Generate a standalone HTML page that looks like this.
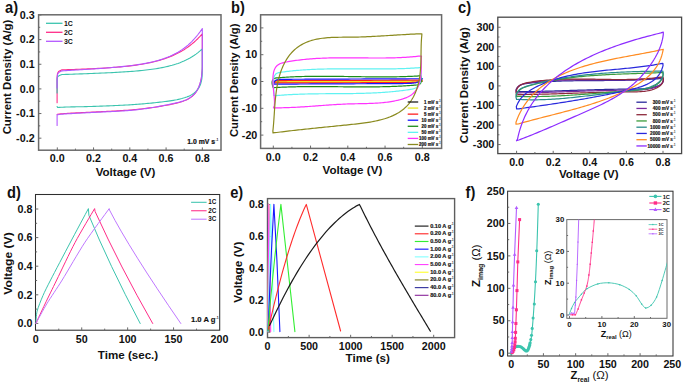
<!DOCTYPE html><html><head><meta charset="utf-8"><style>html,body{margin:0;padding:0;background:#fff;overflow:hidden;}svg{display:block;font-family:"Liberation Sans",sans-serif;}</style></head><body>
<svg width="685" height="384" viewBox="0 0 685 384">
<rect width="685" height="384" fill="#fff"/>
<rect x="38.6" y="14.8" width="182.4" height="135.4" fill="none" stroke="#6a6a6a" stroke-width="1.5"/>
<line x1="38.6" y1="14.98" x2="41.4" y2="14.98" stroke="#6a6a6a" stroke-width="1"/>
<line x1="38.6" y1="39.62" x2="41.4" y2="39.62" stroke="#6a6a6a" stroke-width="1"/>
<line x1="38.6" y1="64.26" x2="41.4" y2="64.26" stroke="#6a6a6a" stroke-width="1"/>
<line x1="38.6" y1="88.9" x2="41.4" y2="88.9" stroke="#6a6a6a" stroke-width="1"/>
<line x1="38.6" y1="113.54" x2="41.4" y2="113.54" stroke="#6a6a6a" stroke-width="1"/>
<line x1="38.6" y1="138.18" x2="41.4" y2="138.18" stroke="#6a6a6a" stroke-width="1"/>
<line x1="38.6" y1="27.3" x2="40.2" y2="27.3" stroke="#6a6a6a" stroke-width="1"/>
<line x1="38.6" y1="51.94" x2="40.2" y2="51.94" stroke="#6a6a6a" stroke-width="1"/>
<line x1="38.6" y1="76.58" x2="40.2" y2="76.58" stroke="#6a6a6a" stroke-width="1"/>
<line x1="38.6" y1="101.22" x2="40.2" y2="101.22" stroke="#6a6a6a" stroke-width="1"/>
<line x1="38.6" y1="125.86" x2="40.2" y2="125.86" stroke="#6a6a6a" stroke-width="1"/>
<line x1="57.3" y1="150.2" x2="57.3" y2="147.4" stroke="#6a6a6a" stroke-width="1"/>
<line x1="93.56" y1="150.2" x2="93.56" y2="147.4" stroke="#6a6a6a" stroke-width="1"/>
<line x1="129.82" y1="150.2" x2="129.82" y2="147.4" stroke="#6a6a6a" stroke-width="1"/>
<line x1="166.08" y1="150.2" x2="166.08" y2="147.4" stroke="#6a6a6a" stroke-width="1"/>
<line x1="202.34" y1="150.2" x2="202.34" y2="147.4" stroke="#6a6a6a" stroke-width="1"/>
<line x1="75.43" y1="150.2" x2="75.43" y2="148.6" stroke="#6a6a6a" stroke-width="1"/>
<line x1="111.69" y1="150.2" x2="111.69" y2="148.6" stroke="#6a6a6a" stroke-width="1"/>
<line x1="147.95" y1="150.2" x2="147.95" y2="148.6" stroke="#6a6a6a" stroke-width="1"/>
<line x1="184.21" y1="150.2" x2="184.21" y2="148.6" stroke="#6a6a6a" stroke-width="1"/>
<text x="34.6" y="18.68" font-size="10.4" text-anchor="end" font-weight="bold" fill="#111"  textLength="14.89" lengthAdjust="spacingAndGlyphs">0.3</text>
<text x="34.6" y="43.32" font-size="10.4" text-anchor="end" font-weight="bold" fill="#111"  textLength="14.89" lengthAdjust="spacingAndGlyphs">0.2</text>
<text x="34.6" y="67.96" font-size="10.4" text-anchor="end" font-weight="bold" fill="#111"  textLength="14.89" lengthAdjust="spacingAndGlyphs">0.1</text>
<text x="34.6" y="92.6" font-size="10.4" text-anchor="end" font-weight="bold" fill="#111"  textLength="14.89" lengthAdjust="spacingAndGlyphs">0.0</text>
<text x="34.6" y="117.24" font-size="10.4" text-anchor="end" font-weight="bold" fill="#111"  textLength="18.46" lengthAdjust="spacingAndGlyphs">-0.1</text>
<text x="34.6" y="141.88" font-size="10.4" text-anchor="end" font-weight="bold" fill="#111"  textLength="18.46" lengthAdjust="spacingAndGlyphs">-0.2</text>
<text x="57.3" y="162.2" font-size="10.4" text-anchor="middle" font-weight="bold" fill="#111"  textLength="14.89" lengthAdjust="spacingAndGlyphs">0.0</text>
<text x="93.56" y="162.2" font-size="10.4" text-anchor="middle" font-weight="bold" fill="#111"  textLength="14.89" lengthAdjust="spacingAndGlyphs">0.2</text>
<text x="129.82" y="162.2" font-size="10.4" text-anchor="middle" font-weight="bold" fill="#111"  textLength="14.89" lengthAdjust="spacingAndGlyphs">0.4</text>
<text x="166.08" y="162.2" font-size="10.4" text-anchor="middle" font-weight="bold" fill="#111"  textLength="14.89" lengthAdjust="spacingAndGlyphs">0.6</text>
<text x="202.34" y="162.2" font-size="10.4" text-anchor="middle" font-weight="bold" fill="#111"  textLength="14.89" lengthAdjust="spacingAndGlyphs">0.8</text>
<text x="125.5" y="175.8" font-size="11.6" text-anchor="middle" font-weight="bold" fill="#111" >Voltage (V)</text>
<text x="0" y="0" font-size="11.3" text-anchor="middle" font-weight="bold" fill="#111" transform="translate(11.4 77.0) rotate(-90)" textLength="114.77" lengthAdjust="spacingAndGlyphs">Current Density (A/g)</text>
<text x="5" y="12.8" font-size="16.3" text-anchor="start" font-weight="bold" fill="#111"  textLength="13.04" lengthAdjust="spacingAndGlyphs">a)</text>
<text x="215.1" y="143.7" font-size="6.4" text-anchor="end" font-weight="bold" fill="#111" textLength="27.79" lengthAdjust="spacingAndGlyphs" stroke="#111" stroke-width="0.2">1.0 mV s</text>
<text x="215.4" y="141.01" font-size="3.4" font-weight="bold" fill="#111">-1</text>
<line x1="46" y1="23.3" x2="62.5" y2="23.3" stroke="#3cc4ae" stroke-width="1.3"/>
<text x="64" y="25.65" font-size="6.7" text-anchor="start" font-weight="bold" fill="#111"  textLength="8.91" lengthAdjust="spacingAndGlyphs">1C</text>
<line x1="46" y1="32.3" x2="62.5" y2="32.3" stroke="#ff2d88" stroke-width="1.3"/>
<text x="64" y="34.65" font-size="6.7" text-anchor="start" font-weight="bold" fill="#111"  textLength="8.91" lengthAdjust="spacingAndGlyphs">2C</text>
<line x1="46" y1="41.3" x2="62.5" y2="41.3" stroke="#b458ff" stroke-width="1.3"/>
<text x="64" y="43.65" font-size="6.7" text-anchor="start" font-weight="bold" fill="#111"  textLength="8.91" lengthAdjust="spacingAndGlyphs">3C</text>
<path d="M57.1 102.8 L57.1 77.5 L57.1 77.5 L57.5 73.6 L58.6 71.6 L60 70.8 L62 69.83 L64 69.77 L66 69.71 L68 69.65 L70 69.58 L72 69.51 L74 69.44 L76 69.37 L78 69.3 L80 69.23 L82 69.15 L84 69.07 L86 68.99 L88 68.9 L90 68.81 L92 68.72 L94 68.62 L96 68.52 L98 68.42 L100 68.31 L102 68.19 L104 68.08 L106 67.95 L108 67.82 L110 67.69 L112 67.54 L114 67.39 L116 67.23 L118 67.07 L120 66.89 L122 66.71 L124 66.51 L126 66.31 L128 66.09 L130 65.86 L132 65.62 L134 65.36 L136 65.09 L138 64.8 L140 64.5 L142 64.17 L144 63.83 L146 63.46 L148 63.08 L150 62.66 L152 62.22 L154 61.76 L156 61.26 L158 60.73 L160 60.17 L162 59.57 L164 58.93 L166 58.25 L168 57.53 L170 56.76 L172 55.93 L174 55.05 L176 54.11 L178 53.11 L180 52.04 L182 50.9 L184 49.68 L186 48.38 L188 46.99 L190 45.51 L192 43.93 L194 42.23 L196 40.42 L198 38.49 L200 36.43 L202 34.22 L202.3 33.87 L202.3 66.5 L202.30 66.50 L202.27 68.22 L202.19 69.94 L202.07 71.64 L201.92 73.34 L201.75 75.04 L201.56 76.72 L201.31 78.41 L200.97 80.10 L200.55 81.78 L200.08 83.43 L199.56 85.05 L198.99 86.63 L198.31 88.21 L197.50 89.78 L196.61 91.30 L195.64 92.71 L194.61 93.99 L193.47 95.17 L192.18 96.30 L190.78 97.36 L189.30 98.34 L187.79 99.21 L186.28 99.95 L184.75 100.61 L183.17 101.22 L181.54 101.78 L179.89 102.29 L178.21 102.76 L176.54 103.18 L174.88 103.56 L173.22 103.91 L171.56 104.25 L169.90 104.59 L168.23 104.91 L166.55 105.23 L164.88 105.53 L163.19 105.83 L161.51 106.12 L159.82 106.40 L158.13 106.68 L156.44 106.94 L154.75 107.20 L153.05 107.45 L151.35 107.69 L149.65 107.92 L147.95 108.14 L146.25 108.36 L144.54 108.56 L142.84 108.76 L141.13 108.95 L139.43 109.14 L137.73 109.31 L136.02 109.48 L134.32 109.63 L132.62 109.78 L130.92 109.93 L129.22 110.06 L127.52 110.19 L125.82 110.31 L124.12 110.42 L122.42 110.53 L120.71 110.64 L119.01 110.74 L117.30 110.84 L115.60 110.93 L113.89 111.02 L112.18 111.11 L110.48 111.19 L108.77 111.27 L107.06 111.36 L105.35 111.44 L103.65 111.52 L101.94 111.60 L100.23 111.68 L98.52 111.76 L96.81 111.84 L95.11 111.93 L93.40 112.02 L91.69 112.11 L89.99 112.20 L88.28 112.29 L86.58 112.38 L84.87 112.47 L83.16 112.55 L81.45 112.63 L79.75 112.71 L78.04 112.79 L76.33 112.87 L74.62 112.95 L72.92 113.04 L71.21 113.13 L69.51 113.22 L67.80 113.33 L66.10 113.44 L64.39 113.55 L62.69 113.68 L60.99 113.82 L59.29 113.97 L57.60 114.20 L57.1 114.2" fill="none" stroke="#ff2d88" stroke-width="1.1" stroke-linejoin="round" stroke-linecap="round" />
<path d="M57.1 93 L57.1 79.5 L57.1 79.5 L57.5 77.2 L58.6 76 L60 75.3 L62 74.53 L64 74.46 L66 74.4 L68 74.33 L70 74.26 L72 74.19 L74 74.12 L76 74.05 L78 73.98 L80 73.91 L82 73.84 L84 73.76 L86 73.69 L88 73.61 L90 73.54 L92 73.46 L94 73.38 L96 73.3 L98 73.22 L100 73.13 L102 73.05 L104 72.96 L106 72.87 L108 72.77 L110 72.68 L112 72.58 L114 72.48 L116 72.37 L118 72.26 L120 72.14 L122 72.03 L124 71.9 L126 71.77 L128 71.64 L130 71.49 L132 71.34 L134 71.19 L136 71.02 L138 70.85 L140 70.66 L142 70.47 L144 70.26 L146 70.04 L148 69.8 L150 69.55 L152 69.29 L154 69 L156 68.7 L158 68.37 L160 68.02 L162 67.64 L164 67.24 L166 66.81 L168 66.34 L170 65.84 L172 65.3 L174 64.71 L176 64.08 L178 63.4 L180 62.66 L182 61.86 L184 61 L186 60.07 L188 59.06 L190 57.96 L192 56.77 L194 55.49 L196 54.09 L198 52.58 L200 50.93 L202 49.15 L202.3 48.87 L202.3 64.5 L202.30 64.50 L202.30 66.22 L202.28 67.94 L202.26 69.65 L202.23 71.36 L202.19 73.06 L202.15 74.76 L202.09 76.45 L201.94 78.16 L201.66 79.88 L201.29 81.58 L200.85 83.22 L200.37 84.79 L199.68 86.34 L198.79 87.85 L197.75 89.29 L196.63 90.62 L195.49 91.80 L194.22 92.90 L192.82 93.93 L191.33 94.87 L189.80 95.69 L188.27 96.38 L186.71 97.00 L185.11 97.56 L183.47 98.08 L181.81 98.55 L180.13 98.98 L178.45 99.38 L176.79 99.75 L175.11 100.08 L173.43 100.38 L171.74 100.65 L170.05 100.89 L168.36 101.12 L166.67 101.33 L164.98 101.55 L163.28 101.76 L161.59 101.96 L159.89 102.16 L158.20 102.35 L156.50 102.54 L154.80 102.73 L153.10 102.91 L151.40 103.08 L149.70 103.25 L148.00 103.41 L146.29 103.57 L144.59 103.72 L142.89 103.87 L141.19 104.01 L139.48 104.15 L137.78 104.28 L136.08 104.40 L134.37 104.52 L132.67 104.63 L130.97 104.74 L129.26 104.84 L127.56 104.94 L125.86 105.04 L124.15 105.13 L122.45 105.22 L120.74 105.30 L119.04 105.38 L117.33 105.46 L115.63 105.54 L113.92 105.62 L112.21 105.69 L110.51 105.76 L108.80 105.83 L107.09 105.90 L105.39 105.97 L103.68 106.03 L101.97 106.09 L100.27 106.15 L98.56 106.21 L96.85 106.27 L95.14 106.33 L93.44 106.39 L91.73 106.44 L90.02 106.50 L88.32 106.55 L86.61 106.60 L84.90 106.64 L83.19 106.68 L81.49 106.72 L79.78 106.75 L78.07 106.78 L76.36 106.82 L74.66 106.85 L72.95 106.89 L71.24 106.92 L69.53 106.97 L67.83 107.01 L66.12 107.06 L64.41 107.12 L62.71 107.18 L61.00 107.25 L59.30 107.34 L57.60 107.50 L57.1 106.6" fill="none" stroke="#3cc4ae" stroke-width="1.1" stroke-linejoin="round" stroke-linecap="round" />
<path d="M57.1 88 L57.1 78.5 L57.1 78.5 L57.5 74.6 L58.6 72.6 L60 71.7 L62 70.84 L64 70.73 L66 70.62 L68 70.51 L70 70.39 L72 70.28 L74 70.16 L76 70.04 L78 69.93 L80 69.81 L82 69.69 L84 69.56 L86 69.44 L88 69.31 L90 69.18 L92 69.05 L94 68.92 L96 68.78 L98 68.64 L100 68.5 L102 68.36 L104 68.21 L106 68.05 L108 67.89 L110 67.73 L112 67.56 L114 67.39 L116 67.21 L118 67.02 L120 66.83 L122 66.63 L124 66.42 L126 66.2 L128 65.97 L130 65.72 L132 65.47 L134 65.2 L136 64.92 L138 64.63 L140 64.31 L142 63.98 L144 63.63 L146 63.26 L148 62.86 L150 62.44 L152 61.99 L154 61.51 L156 61 L158 60.45 L160 59.86 L162 59.23 L164 58.56 L166 57.84 L168 57.06 L170 56.22 L172 55.32 L174 54.35 L176 53.31 L178 52.18 L180 50.97 L182 49.66 L184 48.24 L186 46.71 L188 45.06 L190 43.27 L192 41.33 L194 39.24 L196 36.98 L198 34.52 L200 31.87 L202 28.99 L202.3 28.54 L202.3 66.9 L202.30 66.90 L202.27 68.62 L202.18 70.32 L202.04 72.02 L201.88 73.72 L201.69 75.40 L201.49 77.08 L201.20 78.76 L200.83 80.45 L200.40 82.12 L199.91 83.75 L199.39 85.35 L198.79 86.92 L198.07 88.50 L197.24 90.05 L196.32 91.54 L195.33 92.91 L194.29 94.14 L193.11 95.31 L191.78 96.43 L190.36 97.47 L188.88 98.42 L187.37 99.24 L185.86 99.93 L184.31 100.54 L182.71 101.10 L181.07 101.60 L179.41 102.07 L177.73 102.49 L176.05 102.89 L174.39 103.27 L172.74 103.63 L171.08 103.99 L169.42 104.35 L167.76 104.70 L166.09 105.04 L164.42 105.38 L162.75 105.71 L161.07 106.03 L159.40 106.35 L157.72 106.66 L156.04 106.96 L154.35 107.25 L152.67 107.54 L150.98 107.81 L149.29 108.08 L147.60 108.34 L145.91 108.59 L144.22 108.83 L142.53 109.05 L140.84 109.27 L139.14 109.48 L137.45 109.68 L135.76 109.86 L134.07 110.03 L132.37 110.19 L130.68 110.34 L128.99 110.48 L127.30 110.61 L125.61 110.73 L123.91 110.85 L122.21 110.96 L120.52 111.06 L118.82 111.16 L117.12 111.26 L115.42 111.35 L113.72 111.44 L112.01 111.52 L110.31 111.60 L108.61 111.68 L106.91 111.76 L105.20 111.84 L103.50 111.92 L101.80 112.00 L100.09 112.08 L98.39 112.16 L96.69 112.25 L94.98 112.33 L93.28 112.42 L91.58 112.51 L89.88 112.61 L88.18 112.70 L86.48 112.79 L84.78 112.88 L83.08 112.97 L81.37 113.05 L79.67 113.14 L77.97 113.22 L76.27 113.31 L74.57 113.40 L72.87 113.49 L71.17 113.59 L69.47 113.69 L67.77 113.80 L66.07 113.92 L64.37 114.04 L62.68 114.17 L60.98 114.31 L59.29 114.48 L57.60 114.70 L57.1 114.8 L57.1 125.5" fill="none" stroke="#b458ff" stroke-width="1.1" stroke-linejoin="round" stroke-linecap="round" />
<rect x="260.6" y="14.8" width="181" height="133.6" fill="none" stroke="#6a6a6a" stroke-width="1.5"/>
<line x1="260.6" y1="27.9" x2="263.4" y2="27.9" stroke="#6a6a6a" stroke-width="1"/>
<line x1="260.6" y1="54.7" x2="263.4" y2="54.7" stroke="#6a6a6a" stroke-width="1"/>
<line x1="260.6" y1="81.5" x2="263.4" y2="81.5" stroke="#6a6a6a" stroke-width="1"/>
<line x1="260.6" y1="108.3" x2="263.4" y2="108.3" stroke="#6a6a6a" stroke-width="1"/>
<line x1="260.6" y1="135.1" x2="263.4" y2="135.1" stroke="#6a6a6a" stroke-width="1"/>
<line x1="260.6" y1="41.3" x2="262.2" y2="41.3" stroke="#6a6a6a" stroke-width="1"/>
<line x1="260.6" y1="68.1" x2="262.2" y2="68.1" stroke="#6a6a6a" stroke-width="1"/>
<line x1="260.6" y1="94.9" x2="262.2" y2="94.9" stroke="#6a6a6a" stroke-width="1"/>
<line x1="260.6" y1="121.7" x2="262.2" y2="121.7" stroke="#6a6a6a" stroke-width="1"/>
<line x1="273.3" y1="148.4" x2="273.3" y2="145.6" stroke="#6a6a6a" stroke-width="1"/>
<line x1="310.55" y1="148.4" x2="310.55" y2="145.6" stroke="#6a6a6a" stroke-width="1"/>
<line x1="347.8" y1="148.4" x2="347.8" y2="145.6" stroke="#6a6a6a" stroke-width="1"/>
<line x1="385.05" y1="148.4" x2="385.05" y2="145.6" stroke="#6a6a6a" stroke-width="1"/>
<line x1="422.3" y1="148.4" x2="422.3" y2="145.6" stroke="#6a6a6a" stroke-width="1"/>
<line x1="291.93" y1="148.4" x2="291.93" y2="146.8" stroke="#6a6a6a" stroke-width="1"/>
<line x1="329.18" y1="148.4" x2="329.18" y2="146.8" stroke="#6a6a6a" stroke-width="1"/>
<line x1="366.43" y1="148.4" x2="366.43" y2="146.8" stroke="#6a6a6a" stroke-width="1"/>
<line x1="403.68" y1="148.4" x2="403.68" y2="146.8" stroke="#6a6a6a" stroke-width="1"/>
<text x="257.3" y="31.6" font-size="10.4" text-anchor="end" font-weight="bold" fill="#111"  textLength="11.92" lengthAdjust="spacingAndGlyphs">20</text>
<text x="257.3" y="58.4" font-size="10.4" text-anchor="end" font-weight="bold" fill="#111"  textLength="11.92" lengthAdjust="spacingAndGlyphs">10</text>
<text x="257.3" y="85.2" font-size="10.4" text-anchor="end" font-weight="bold" fill="#111"  textLength="5.96" lengthAdjust="spacingAndGlyphs">0</text>
<text x="257.3" y="112" font-size="10.4" text-anchor="end" font-weight="bold" fill="#111"  textLength="15.48" lengthAdjust="spacingAndGlyphs">-10</text>
<text x="257.3" y="138.8" font-size="10.4" text-anchor="end" font-weight="bold" fill="#111"  textLength="15.48" lengthAdjust="spacingAndGlyphs">-20</text>
<text x="273.3" y="160.5" font-size="10.4" text-anchor="middle" font-weight="bold" fill="#111"  textLength="14.89" lengthAdjust="spacingAndGlyphs">0.0</text>
<text x="310.55" y="160.5" font-size="10.4" text-anchor="middle" font-weight="bold" fill="#111"  textLength="14.89" lengthAdjust="spacingAndGlyphs">0.2</text>
<text x="347.8" y="160.5" font-size="10.4" text-anchor="middle" font-weight="bold" fill="#111"  textLength="14.89" lengthAdjust="spacingAndGlyphs">0.4</text>
<text x="385.05" y="160.5" font-size="10.4" text-anchor="middle" font-weight="bold" fill="#111"  textLength="14.89" lengthAdjust="spacingAndGlyphs">0.6</text>
<text x="422.3" y="160.5" font-size="10.4" text-anchor="middle" font-weight="bold" fill="#111"  textLength="14.89" lengthAdjust="spacingAndGlyphs">0.8</text>
<text x="352.4" y="173.8" font-size="11.6" text-anchor="middle" font-weight="bold" fill="#111" >Voltage (V)</text>
<text x="0" y="0" font-size="11.3" text-anchor="middle" font-weight="bold" fill="#111" transform="translate(238.0 80.3) rotate(-90)">Current Density (A/g)</text>
<text x="231" y="12.8" font-size="16.3" text-anchor="start" font-weight="bold" fill="#111"  textLength="13.85" lengthAdjust="spacingAndGlyphs">b)</text>
<path d="M273.3 81.77 L273.51 81.7 L273.95 81.59 L274.53 81.5 L275.26 81.43 L276.1 81.4 L277.04 81.38 L278.09 81.37 L279.23 81.36 L280.46 81.36 L281.78 81.36 L283.17 81.36 L284.65 81.36 L286.2 81.36 L287.82 81.36 L289.51 81.35 L291.28 81.35 L293.11 81.35 L295.01 81.35 L296.97 81.35 L298.99 81.35 L301.08 81.35 L303.22 81.34 L305.43 81.34 L307.69 81.34 L310.02 81.34 L312.39 81.34 L314.83 81.34 L317.31 81.33 L319.86 81.33 L322.45 81.33 L325.1 81.33 L327.8 81.33 L330.55 81.32 L333.35 81.32 L336.2 81.32 L339.1 81.32 L342.05 81.32 L345.05 81.31 L348.09 81.31 L351.18 81.31 L354.32 81.31 L357.51 81.31 L360.74 81.3 L364.01 81.3 L367.33 81.3 L370.7 81.3 L374.11 81.29 L377.56 81.29 L381.06 81.29 L384.6 81.29 L388.18 81.28 L391.81 81.28 L395.48 81.28 L399.19 81.28 L402.94 81.27 L406.73 81.27 L410.56 81.27 L414.43 81.26 L418.35 81.26 L422.3 81.26 L422.3 81.26 L422.09 81.29 L421.65 81.35 L421.07 81.42 L420.34 81.49 L419.5 81.55 L418.56 81.6 L417.51 81.64 L416.37 81.66 L415.14 81.68 L413.82 81.7 L412.43 81.71 L410.95 81.71 L409.4 81.72 L407.78 81.72 L406.09 81.72 L404.32 81.73 L402.49 81.73 L400.59 81.73 L398.63 81.73 L396.61 81.73 L394.52 81.73 L392.38 81.74 L390.17 81.74 L387.91 81.74 L385.58 81.74 L383.21 81.74 L380.77 81.74 L378.29 81.75 L375.74 81.75 L373.15 81.75 L370.5 81.75 L367.8 81.75 L365.05 81.76 L362.25 81.76 L359.4 81.76 L356.5 81.76 L353.55 81.76 L350.55 81.77 L347.51 81.77 L344.42 81.77 L341.28 81.77 L338.09 81.77 L334.86 81.78 L331.59 81.78 L328.27 81.78 L324.9 81.78 L321.49 81.79 L318.04 81.79 L314.54 81.79 L311 81.79 L307.42 81.8 L303.79 81.8 L300.12 81.8 L296.41 81.8 L292.66 81.81 L288.87 81.81 L285.04 81.81 L281.17 81.82 L277.25 81.82 L273.3 81.82 L273.3 81.77" fill="none" stroke="#202020" stroke-width="1.2" stroke-linejoin="round" stroke-linecap="round" />
<path d="M273.3 82.44 L273.51 82.23 L273.95 81.91 L274.53 81.63 L275.26 81.44 L276.1 81.33 L277.04 81.27 L278.09 81.24 L279.23 81.23 L280.46 81.22 L281.78 81.22 L283.17 81.22 L284.65 81.22 L286.2 81.21 L287.82 81.21 L289.51 81.21 L291.28 81.21 L293.11 81.2 L295.01 81.2 L296.97 81.2 L298.99 81.2 L301.08 81.19 L303.22 81.19 L305.43 81.19 L307.69 81.18 L310.02 81.18 L312.39 81.18 L314.83 81.17 L317.31 81.17 L319.86 81.17 L322.45 81.16 L325.1 81.16 L327.8 81.15 L330.55 81.15 L333.35 81.15 L336.2 81.14 L339.1 81.14 L342.05 81.13 L345.05 81.13 L348.09 81.12 L351.18 81.12 L354.32 81.12 L357.51 81.11 L360.74 81.11 L364.01 81.1 L367.33 81.1 L370.7 81.09 L374.11 81.09 L377.56 81.08 L381.06 81.08 L384.6 81.07 L388.18 81.07 L391.81 81.06 L395.48 81.06 L399.19 81.05 L402.94 81.05 L406.73 81.04 L410.56 81.03 L414.43 81.03 L418.35 81.02 L422.3 81.02 L422.3 81.02 L422.09 81.11 L421.65 81.27 L421.07 81.45 L420.34 81.63 L419.5 81.78 L418.56 81.91 L417.51 82.01 L416.37 82.09 L415.14 82.14 L413.82 82.18 L412.43 82.2 L410.95 82.22 L409.4 82.23 L407.78 82.24 L406.09 82.24 L404.32 82.25 L402.49 82.25 L400.59 82.25 L398.63 82.26 L396.61 82.26 L394.52 82.26 L392.38 82.27 L390.17 82.27 L387.91 82.27 L385.58 82.28 L383.21 82.28 L380.77 82.28 L378.29 82.29 L375.74 82.29 L373.15 82.29 L370.5 82.3 L367.8 82.3 L365.05 82.31 L362.25 82.31 L359.4 82.31 L356.5 82.32 L353.55 82.32 L350.55 82.33 L347.51 82.33 L344.42 82.34 L341.28 82.34 L338.09 82.34 L334.86 82.35 L331.59 82.35 L328.27 82.36 L324.9 82.36 L321.49 82.37 L318.04 82.37 L314.54 82.38 L311 82.38 L307.42 82.39 L303.79 82.39 L300.12 82.4 L296.41 82.4 L292.66 82.41 L288.87 82.42 L285.04 82.42 L281.17 82.43 L277.25 82.43 L273.3 82.44 L273.3 82.44" fill="none" stroke="#e8e820" stroke-width="1.2" stroke-linejoin="round" stroke-linecap="round" />
<path d="M273.3 83.11 L273.51 82.72 L273.95 82.11 L274.53 81.55 L275.26 81.12 L276.1 80.85 L277.04 80.7 L278.09 80.61 L279.23 80.57 L280.46 80.55 L281.78 80.54 L283.17 80.53 L284.65 80.53 L286.2 80.53 L287.82 80.52 L289.51 80.52 L291.28 80.51 L293.11 80.5 L295.01 80.5 L296.97 80.49 L298.99 80.49 L301.08 80.48 L303.22 80.48 L305.43 80.47 L307.69 80.46 L310.02 80.46 L312.39 80.45 L314.83 80.44 L317.31 80.44 L319.86 80.43 L322.45 80.42 L325.1 80.41 L327.8 80.41 L330.55 80.4 L333.35 80.39 L336.2 80.38 L339.1 80.37 L342.05 80.36 L345.05 80.36 L348.09 80.35 L351.18 80.34 L354.32 80.33 L357.51 80.32 L360.74 80.31 L364.01 80.3 L367.33 80.29 L370.7 80.28 L374.11 80.27 L377.56 80.26 L381.06 80.25 L384.6 80.24 L388.18 80.23 L391.81 80.22 L395.48 80.21 L399.19 80.2 L402.94 80.19 L406.73 80.18 L410.56 80.17 L414.43 80.16 L418.35 80.14 L422.3 80.13 L422.3 80.13 L422.09 80.28 L421.65 80.56 L421.07 80.88 L420.34 81.21 L419.5 81.51 L418.56 81.77 L417.51 81.98 L416.37 82.15 L415.14 82.28 L413.82 82.38 L412.43 82.45 L410.95 82.5 L409.4 82.53 L407.78 82.56 L406.09 82.57 L404.32 82.59 L402.49 82.6 L400.59 82.6 L398.63 82.61 L396.61 82.62 L394.52 82.62 L392.38 82.63 L390.17 82.64 L387.91 82.64 L385.58 82.65 L383.21 82.66 L380.77 82.66 L378.29 82.67 L375.74 82.68 L373.15 82.69 L370.5 82.69 L367.8 82.7 L365.05 82.71 L362.25 82.72 L359.4 82.73 L356.5 82.73 L353.55 82.74 L350.55 82.75 L347.51 82.76 L344.42 82.77 L341.28 82.78 L338.09 82.79 L334.86 82.8 L331.59 82.81 L328.27 82.82 L324.9 82.83 L321.49 82.84 L318.04 82.85 L314.54 82.86 L311 82.87 L307.42 82.88 L303.79 82.89 L300.12 82.9 L296.41 82.91 L292.66 82.92 L288.87 82.93 L285.04 82.94 L281.17 82.95 L277.25 82.96 L273.3 82.97 L273.3 83.11" fill="none" stroke="#ff2020" stroke-width="1.2" stroke-linejoin="round" stroke-linecap="round" />
<path d="M273.3 84.18 L273.51 83.54 L273.95 82.48 L274.53 81.46 L275.26 80.65 L276.1 80.08 L277.04 79.73 L278.09 79.53 L279.23 79.42 L280.46 79.36 L281.78 79.34 L283.17 79.32 L284.65 79.31 L286.2 79.3 L287.82 79.29 L289.51 79.29 L291.28 79.28 L293.11 79.27 L295.01 79.26 L296.97 79.25 L298.99 79.25 L301.08 79.24 L303.22 79.23 L305.43 79.22 L307.69 79.21 L310.02 79.2 L312.39 79.19 L314.83 79.18 L317.31 79.17 L319.86 79.16 L322.45 79.14 L325.1 79.13 L327.8 79.12 L330.55 79.11 L333.35 79.1 L336.2 79.08 L339.1 79.07 L342.05 79.06 L345.05 79.05 L348.09 79.03 L351.18 79.02 L354.32 79.01 L357.51 78.99 L360.74 78.98 L364.01 78.96 L367.33 78.95 L370.7 78.94 L374.11 78.92 L377.56 78.91 L381.06 78.89 L384.6 78.88 L388.18 78.86 L391.81 78.84 L395.48 78.83 L399.19 78.81 L402.94 78.8 L406.73 78.78 L410.56 78.76 L414.43 78.75 L418.35 78.73 L422.3 78.71 L422.3 78.71 L422.09 78.98 L421.65 79.47 L421.07 80.06 L420.34 80.67 L419.5 81.24 L418.56 81.75 L417.51 82.19 L416.37 82.54 L415.14 82.82 L413.82 83.03 L412.43 83.19 L410.95 83.31 L409.4 83.39 L407.78 83.45 L406.09 83.49 L404.32 83.52 L402.49 83.55 L400.59 83.56 L398.63 83.58 L396.61 83.59 L394.52 83.6 L392.38 83.61 L390.17 83.62 L387.91 83.63 L385.58 83.64 L383.21 83.65 L380.77 83.66 L378.29 83.67 L375.74 83.68 L373.15 83.7 L370.5 83.71 L367.8 83.72 L365.05 83.73 L362.25 83.74 L359.4 83.75 L356.5 83.77 L353.55 83.78 L350.55 83.79 L347.51 83.81 L344.42 83.82 L341.28 83.83 L338.09 83.85 L334.86 83.86 L331.59 83.87 L328.27 83.89 L324.9 83.9 L321.49 83.92 L318.04 83.93 L314.54 83.95 L311 83.96 L307.42 83.98 L303.79 83.99 L300.12 84.01 L296.41 84.03 L292.66 84.04 L288.87 84.06 L285.04 84.08 L281.17 84.09 L277.25 84.11 L273.3 84.13 L273.3 84.18" fill="none" stroke="#1818ff" stroke-width="1.2" stroke-linejoin="round" stroke-linecap="round" />
<path d="M273.20 87.50 L272.54 85.68 L272.15 83.95 L272.06 82.43 L272.24 81.11 L272.67 80.02 L273.34 79.15 L274.23 78.53 L275.29 78.14 L276.49 77.92 L277.76 77.78 L279.05 77.68 L280.34 77.58 L281.64 77.49 L282.93 77.40 L284.23 77.32 L285.52 77.24 L286.82 77.16 L288.12 77.09 L289.42 77.02 L290.72 76.95 L292.03 76.89 L293.33 76.83 L294.64 76.77 L295.94 76.72 L297.25 76.67 L298.55 76.63 L299.86 76.59 L301.17 76.55 L302.48 76.51 L303.79 76.48 L305.10 76.45 L306.41 76.42 L307.73 76.40 L309.04 76.37 L310.36 76.36 L311.67 76.34 L312.99 76.32 L314.30 76.31 L315.62 76.30 L316.94 76.29 L318.25 76.29 L319.57 76.28 L320.89 76.28 L322.21 76.28 L323.53 76.28 L324.85 76.28 L326.17 76.29 L327.49 76.29 L328.82 76.30 L330.14 76.31 L331.46 76.32 L332.78 76.33 L334.11 76.35 L335.43 76.36 L336.75 76.37 L338.08 76.39 L339.40 76.41 L340.72 76.42 L342.05 76.44 L343.37 76.46 L344.70 76.48 L346.02 76.50 L347.35 76.52 L348.67 76.54 L350.00 76.56 L351.32 76.58 L352.65 76.60 L353.97 76.62 L355.30 76.64 L356.62 76.66 L357.95 76.68 L359.27 76.70 L360.60 76.72 L361.92 76.74 L363.24 76.75 L364.57 76.77 L365.89 76.79 L367.22 76.80 L368.54 76.82 L369.86 76.83 L371.18 76.85 L372.51 76.86 L373.83 76.87 L375.15 76.88 L376.47 76.88 L377.79 76.89 L379.11 76.90 L380.43 76.90 L381.75 76.90 L383.07 76.90 L384.39 76.90 L385.71 76.90 L387.02 76.89 L388.34 76.88 L389.66 76.87 L390.97 76.86 L392.29 76.85 L393.60 76.83 L394.91 76.81 L396.23 76.79 L397.54 76.76 L398.85 76.74 L400.16 76.71 L401.47 76.67 L402.78 76.64 L404.09 76.60 L405.39 76.56 L406.70 76.51 L408.00 76.47 L409.31 76.42 L410.61 76.36 L411.91 76.30 L413.21 76.24 L414.51 76.18 L415.81 76.11 L417.11 76.03 L418.41 75.96 L419.70 75.88 L421.00 75.80 L421.00 75.80 L421.20 77.24 L421.37 78.89 L421.36 80.45 L421.14 81.85 L420.70 83.02 L420.01 83.90 L419.07 84.46 L417.97 84.79 L416.74 84.98 L415.47 85.09 L414.20 85.20 L412.92 85.30 L411.64 85.40 L410.36 85.50 L409.08 85.59 L407.80 85.68 L406.51 85.77 L405.23 85.85 L403.94 85.92 L402.66 86.00 L401.37 86.07 L400.08 86.13 L398.79 86.20 L397.49 86.26 L396.20 86.31 L394.91 86.37 L393.61 86.42 L392.31 86.46 L391.02 86.51 L389.72 86.55 L388.42 86.59 L387.12 86.63 L385.82 86.66 L384.52 86.69 L383.21 86.72 L381.91 86.74 L380.61 86.77 L379.30 86.79 L377.99 86.81 L376.69 86.83 L375.38 86.84 L374.07 86.85 L372.76 86.87 L371.45 86.88 L370.14 86.88 L368.83 86.89 L367.52 86.89 L366.21 86.90 L364.90 86.90 L363.59 86.90 L362.27 86.90 L360.96 86.89 L359.64 86.89 L358.33 86.89 L357.02 86.88 L355.70 86.87 L354.38 86.86 L353.07 86.86 L351.75 86.85 L350.44 86.84 L349.12 86.83 L347.80 86.82 L346.49 86.80 L345.17 86.79 L343.85 86.78 L342.54 86.77 L341.22 86.75 L339.90 86.74 L338.59 86.73 L337.27 86.72 L335.95 86.70 L334.63 86.69 L333.32 86.68 L332.00 86.67 L330.68 86.66 L329.37 86.65 L328.05 86.64 L326.74 86.63 L325.42 86.62 L324.10 86.61 L322.79 86.60 L321.47 86.60 L320.16 86.59 L318.84 86.59 L317.53 86.58 L316.22 86.58 L314.90 86.58 L313.59 86.58 L312.28 86.58 L310.97 86.59 L309.66 86.59 L308.35 86.60 L307.04 86.61 L305.73 86.62 L304.42 86.63 L303.11 86.65 L301.80 86.66 L300.50 86.68 L299.19 86.70 L297.88 86.72 L296.58 86.75 L295.28 86.78 L293.97 86.81 L292.67 86.84 L291.37 86.87 L290.07 86.91 L288.77 86.95 L287.47 86.99 L286.18 87.04 L284.88 87.09 L283.58 87.14 L282.29 87.20 L281.00 87.26 L279.70 87.32 L278.41 87.38 L277.12 87.45 L275.84 87.52 L274.55 87.60 L273.20 87.50" fill="none" stroke="#1a8c1a" stroke-width="1.2" stroke-linejoin="round" stroke-linecap="round" />
<path d="M273.90 95.50 L274.01 94.67 L273.99 93.57 L273.91 92.29 L273.79 90.85 L273.66 89.30 L273.52 87.66 L273.41 85.97 L273.34 84.26 L273.32 82.56 L273.38 80.89 L273.54 79.30 L273.82 77.81 L274.23 76.46 L274.79 75.27 L275.52 74.29 L276.45 73.53 L277.56 73.00 L278.80 72.63 L280.13 72.38 L281.51 72.18 L282.88 71.99 L284.26 71.81 L285.64 71.63 L287.02 71.46 L288.41 71.30 L289.79 71.15 L291.18 71.00 L292.56 70.86 L293.95 70.72 L295.34 70.59 L296.74 70.46 L298.13 70.35 L299.52 70.23 L300.92 70.13 L302.32 70.02 L303.71 69.93 L305.11 69.84 L306.51 69.75 L307.91 69.67 L309.32 69.59 L310.72 69.52 L312.12 69.45 L313.53 69.39 L314.94 69.33 L316.34 69.27 L317.75 69.22 L319.16 69.17 L320.57 69.13 L321.98 69.09 L323.39 69.05 L324.80 69.02 L326.22 68.99 L327.63 68.97 L329.04 68.94 L330.46 68.92 L331.87 68.90 L333.29 68.89 L334.71 68.87 L336.12 68.86 L337.54 68.85 L338.96 68.85 L340.37 68.84 L341.79 68.84 L343.21 68.84 L344.63 68.84 L346.05 68.84 L347.47 68.84 L348.89 68.85 L350.31 68.85 L351.73 68.86 L353.14 68.87 L354.56 68.87 L355.98 68.88 L357.40 68.89 L358.82 68.90 L360.24 68.91 L361.66 68.92 L363.08 68.92 L364.50 68.93 L365.92 68.94 L367.34 68.95 L368.76 68.95 L370.17 68.96 L371.59 68.97 L373.01 68.97 L374.43 68.97 L375.84 68.97 L377.26 68.97 L378.67 68.97 L380.09 68.97 L381.50 68.96 L382.92 68.96 L384.33 68.95 L385.74 68.94 L387.16 68.92 L388.57 68.91 L389.98 68.89 L391.39 68.87 L392.80 68.85 L394.20 68.82 L395.61 68.79 L397.02 68.76 L398.42 68.72 L399.83 68.68 L401.23 68.64 L402.63 68.59 L404.03 68.54 L405.43 68.48 L406.83 68.42 L408.23 68.36 L409.63 68.29 L411.02 68.22 L412.42 68.14 L413.81 68.06 L415.20 67.97 L416.59 67.88 L417.98 67.78 L419.37 67.68 L420.80 67.70 L420.80 67.70 L420.78 68.73 L420.89 70.02 L420.98 71.42 L421.04 72.90 L421.05 74.45 L421.02 76.03 L420.92 77.61 L420.75 79.18 L420.50 80.70 L420.15 82.15 L419.69 83.49 L419.11 84.72 L418.40 85.78 L417.55 86.68 L416.58 87.41 L415.50 88.01 L414.32 88.48 L413.07 88.86 L411.77 89.16 L410.43 89.40 L409.07 89.62 L407.70 89.83 L406.33 90.03 L404.97 90.22 L403.60 90.40 L402.23 90.58 L400.86 90.75 L399.49 90.91 L398.12 91.07 L396.75 91.22 L395.37 91.37 L394.00 91.51 L392.63 91.64 L391.25 91.77 L389.88 91.89 L388.50 92.00 L387.13 92.11 L385.75 92.22 L384.38 92.32 L383.00 92.41 L381.62 92.50 L380.24 92.59 L378.86 92.67 L377.49 92.75 L376.11 92.82 L374.73 92.89 L373.35 92.95 L371.97 93.01 L370.58 93.07 L369.20 93.12 L367.82 93.17 L366.44 93.22 L365.06 93.26 L363.67 93.30 L362.29 93.34 L360.91 93.37 L359.53 93.40 L358.14 93.43 L356.76 93.46 L355.37 93.48 L353.99 93.51 L352.61 93.53 L351.22 93.54 L349.84 93.56 L348.45 93.58 L347.07 93.59 L345.68 93.60 L344.30 93.61 L342.91 93.62 L341.53 93.63 L340.14 93.64 L338.76 93.65 L337.37 93.66 L335.99 93.66 L334.60 93.67 L333.22 93.68 L331.83 93.68 L330.45 93.69 L329.06 93.70 L327.68 93.71 L326.30 93.72 L324.91 93.73 L323.53 93.74 L322.14 93.75 L320.76 93.76 L319.38 93.77 L317.99 93.79 L316.61 93.80 L315.23 93.82 L313.85 93.84 L312.46 93.87 L311.08 93.89 L309.70 93.92 L308.32 93.94 L306.94 93.98 L305.56 94.01 L304.18 94.05 L302.80 94.09 L301.42 94.13 L300.04 94.18 L298.66 94.23 L297.28 94.28 L295.91 94.34 L294.53 94.40 L293.15 94.46 L291.78 94.53 L290.40 94.60 L289.03 94.68 L287.65 94.76 L286.28 94.84 L284.90 94.93 L283.53 95.03 L282.16 95.13 L280.79 95.23 L279.42 95.34 L278.05 95.46 L276.68 95.58 L275.31 95.71 L273.90 95.50" fill="none" stroke="#60f2f2" stroke-width="1.2" stroke-linejoin="round" stroke-linecap="round" />
<path d="M273.50 107.90 L273.92 107.17 L274.18 106.24 L274.36 105.15 L274.46 103.92 L274.48 102.57 L274.45 101.10 L274.37 99.53 L274.25 97.88 L274.10 96.14 L273.92 94.34 L273.74 92.48 L273.55 90.59 L273.37 88.66 L273.20 86.72 L273.06 84.78 L272.96 82.85 L272.90 80.94 L272.90 79.06 L272.96 77.23 L273.10 75.46 L273.32 73.76 L273.63 72.14 L274.04 70.62 L274.57 69.20 L275.22 67.91 L276.00 66.75 L276.92 65.74 L277.99 64.87 L279.19 64.15 L280.50 63.55 L281.90 63.05 L283.37 62.64 L284.90 62.28 L286.46 61.97 L288.03 61.68 L289.61 61.41 L291.18 61.15 L292.76 60.90 L294.34 60.67 L295.91 60.44 L297.49 60.23 L299.08 60.03 L300.66 59.84 L302.24 59.66 L303.82 59.49 L305.41 59.33 L306.99 59.18 L308.58 59.04 L310.17 58.91 L311.75 58.79 L313.34 58.67 L314.93 58.57 L316.52 58.47 L318.11 58.38 L319.70 58.30 L321.29 58.23 L322.88 58.16 L324.48 58.10 L326.07 58.05 L327.66 58.00 L329.26 57.96 L330.85 57.92 L332.45 57.89 L334.04 57.86 L335.64 57.84 L337.23 57.82 L338.83 57.81 L340.43 57.80 L342.02 57.80 L343.62 57.80 L345.22 57.80 L346.81 57.80 L348.41 57.81 L350.01 57.82 L351.60 57.83 L353.20 57.84 L354.80 57.85 L356.39 57.86 L357.99 57.88 L359.59 57.90 L361.18 57.91 L362.78 57.93 L364.38 57.94 L365.97 57.96 L367.57 57.97 L369.16 57.98 L370.76 57.99 L372.35 58.00 L373.95 58.01 L375.54 58.01 L377.14 58.02 L378.73 58.01 L380.32 58.01 L381.91 58.00 L383.51 57.99 L385.10 57.98 L386.69 57.96 L388.28 57.93 L389.87 57.90 L391.45 57.87 L393.04 57.83 L394.63 57.78 L396.22 57.73 L397.80 57.67 L399.39 57.61 L400.97 57.54 L402.55 57.46 L404.13 57.37 L405.71 57.28 L407.29 57.18 L408.87 57.07 L410.45 56.95 L412.03 56.82 L413.60 56.68 L415.18 56.54 L416.75 56.38 L418.32 56.22 L419.89 56.04 L421.50 56.00 L421.50 56.00 L421.33 57.38 L421.30 58.77 L421.28 60.21 L421.27 61.70 L421.27 63.22 L421.27 64.79 L421.26 66.38 L421.24 67.99 L421.21 69.61 L421.15 71.24 L421.07 72.88 L420.95 74.51 L420.79 76.13 L420.60 77.73 L420.35 79.31 L420.05 80.86 L419.69 82.38 L419.26 83.85 L418.76 85.27 L418.19 86.63 L417.53 87.94 L416.79 89.18 L415.98 90.35 L415.08 91.46 L414.12 92.51 L413.09 93.48 L411.99 94.39 L410.83 95.23 L409.61 96.00 L408.33 96.70 L407.01 97.33 L405.64 97.90 L404.24 98.42 L402.81 98.90 L401.36 99.33 L399.89 99.73 L398.42 100.11 L396.95 100.46 L395.46 100.78 L393.97 101.08 L392.48 101.36 L390.97 101.61 L389.47 101.85 L387.96 102.06 L386.44 102.26 L384.92 102.43 L383.39 102.59 L381.87 102.74 L380.33 102.87 L378.80 102.98 L377.26 103.09 L375.72 103.18 L374.18 103.26 L372.64 103.33 L371.09 103.39 L369.54 103.45 L367.99 103.50 L366.45 103.54 L364.90 103.57 L363.35 103.61 L361.80 103.64 L360.25 103.67 L358.70 103.70 L357.15 103.73 L355.61 103.76 L354.06 103.79 L352.52 103.83 L350.98 103.87 L349.44 103.91 L347.91 103.96 L346.37 104.02 L344.84 104.08 L343.32 104.15 L341.79 104.23 L340.27 104.30 L338.75 104.39 L337.23 104.47 L335.71 104.56 L334.19 104.65 L332.68 104.75 L331.17 104.85 L329.65 104.95 L328.14 105.06 L326.63 105.16 L325.12 105.27 L323.61 105.38 L322.11 105.49 L320.60 105.60 L319.09 105.71 L317.59 105.82 L316.08 105.93 L314.57 106.04 L313.07 106.15 L311.56 106.26 L310.05 106.37 L308.54 106.48 L307.04 106.58 L305.53 106.68 L304.02 106.78 L302.51 106.88 L300.99 106.97 L299.48 107.07 L297.97 107.15 L296.45 107.24 L294.93 107.31 L293.41 107.39 L291.89 107.46 L290.37 107.52 L288.85 107.58 L287.32 107.64 L285.79 107.68 L284.26 107.72 L282.72 107.76 L281.19 107.79 L279.65 107.81 L278.10 107.82 L276.56 107.83 L275.01 107.82 L273.50 107.90" fill="none" stroke="#ff33ff" stroke-width="1.2" stroke-linejoin="round" stroke-linecap="round" />
<path d="M273.00 132.90 L272.88 130.90 L273.07 129.20 L273.24 127.48 L273.40 125.74 L273.55 123.99 L273.69 122.21 L273.82 120.42 L273.95 118.62 L274.07 116.80 L274.20 114.97 L274.32 113.13 L274.44 111.28 L274.56 109.42 L274.69 107.56 L274.83 105.69 L274.98 103.81 L275.13 101.93 L275.30 100.05 L275.48 98.18 L275.68 96.30 L275.90 94.42 L276.13 92.55 L276.39 90.68 L276.67 88.82 L276.97 86.97 L277.30 85.12 L277.65 83.29 L278.04 81.46 L278.46 79.65 L278.91 77.85 L279.40 76.07 L279.92 74.31 L280.49 72.56 L281.09 70.83 L281.74 69.13 L282.43 67.44 L283.16 65.78 L283.95 64.14 L284.78 62.53 L285.66 60.94 L286.59 59.39 L287.58 57.88 L288.61 56.41 L289.69 54.98 L290.82 53.60 L292.01 52.27 L293.24 51.00 L294.53 49.78 L295.87 48.62 L297.26 47.53 L298.70 46.50 L300.18 45.53 L301.70 44.63 L303.26 43.78 L304.85 42.99 L306.48 42.27 L308.14 41.60 L309.83 41.00 L311.55 40.45 L313.29 39.96 L315.05 39.53 L316.83 39.14 L318.63 38.80 L320.45 38.50 L322.28 38.24 L324.13 38.03 L325.99 37.84 L327.87 37.69 L329.75 37.56 L331.64 37.46 L333.54 37.39 L335.44 37.33 L337.34 37.28 L339.25 37.25 L341.16 37.23 L343.06 37.22 L344.96 37.21 L346.86 37.20 L348.75 37.19 L350.63 37.17 L352.50 37.15 L354.37 37.12 L356.22 37.08 L358.07 37.03 L359.91 36.98 L361.75 36.92 L363.58 36.86 L365.40 36.79 L367.22 36.71 L369.03 36.63 L370.84 36.55 L372.64 36.46 L374.45 36.36 L376.24 36.27 L378.04 36.17 L379.84 36.07 L381.63 35.96 L383.43 35.85 L385.22 35.75 L387.02 35.64 L388.81 35.52 L390.61 35.41 L392.41 35.30 L394.21 35.19 L396.01 35.07 L397.82 34.96 L399.63 34.85 L401.45 34.74 L403.27 34.63 L405.10 34.53 L406.94 34.42 L408.78 34.32 L410.62 34.22 L412.48 34.13 L414.34 34.04 L416.21 33.95 L418.10 33.86 L419.99 33.79 L421.90 33.75 L421.90 33.75 L421.79 35.61 L421.63 37.31 L421.49 39.03 L421.38 40.76 L421.29 42.51 L421.22 44.27 L421.17 46.04 L421.13 47.83 L421.09 49.62 L421.07 51.42 L421.04 53.23 L421.02 55.05 L420.99 56.88 L420.96 58.70 L420.92 60.54 L420.86 62.37 L420.79 64.21 L420.70 66.05 L420.60 67.89 L420.46 69.72 L420.30 71.56 L420.11 73.39 L419.89 75.21 L419.63 77.04 L419.33 78.85 L418.99 80.66 L418.60 82.46 L418.16 84.24 L417.68 86.02 L417.14 87.78 L416.56 89.51 L415.93 91.23 L415.25 92.91 L414.51 94.56 L413.73 96.17 L412.89 97.74 L412.00 99.27 L411.06 100.74 L410.07 102.17 L409.03 103.54 L407.93 104.84 L406.78 106.09 L405.58 107.28 L404.34 108.42 L403.04 109.50 L401.71 110.52 L400.33 111.49 L398.91 112.42 L397.45 113.29 L395.95 114.12 L394.41 114.90 L392.85 115.64 L391.25 116.34 L389.62 117.00 L387.96 117.62 L386.27 118.20 L384.56 118.75 L382.83 119.26 L381.07 119.74 L379.30 120.19 L377.50 120.61 L375.69 121.01 L373.87 121.38 L372.03 121.73 L370.18 122.05 L368.33 122.36 L366.46 122.64 L364.59 122.91 L362.72 123.17 L360.84 123.41 L358.97 123.63 L357.09 123.85 L355.22 124.06 L353.36 124.26 L351.50 124.46 L349.64 124.65 L347.80 124.84 L345.97 125.03 L344.15 125.22 L342.34 125.40 L340.53 125.58 L338.73 125.77 L336.94 125.95 L335.16 126.13 L333.38 126.30 L331.61 126.48 L329.84 126.66 L328.07 126.84 L326.32 127.01 L324.56 127.19 L322.81 127.37 L321.06 127.54 L319.31 127.72 L317.56 127.90 L315.82 128.07 L314.07 128.25 L312.33 128.43 L310.59 128.61 L308.84 128.80 L307.09 128.98 L305.34 129.17 L303.59 129.35 L301.84 129.54 L300.08 129.73 L298.32 129.93 L296.55 130.12 L294.78 130.32 L293.00 130.52 L291.22 130.73 L289.43 130.93 L287.63 131.14 L285.82 131.36 L284.01 131.57 L282.19 131.79 L280.36 132.02 L278.52 132.25 L276.67 132.48 L274.81 132.71 L273.00 132.90" fill="none" stroke="#8a8a1e" stroke-width="1.2" stroke-linejoin="round" stroke-linecap="round" />
<line x1="407.7" y1="102" x2="418.2" y2="102" stroke="#202020" stroke-width="1.3"/>
<text x="438.2" y="103.9" font-size="4.9" text-anchor="end" font-weight="bold" fill="#111" textLength="14.22" lengthAdjust="spacingAndGlyphs" stroke="#111" stroke-width="0.22">1 mV s</text>
<text x="438.4" y="101.84" font-size="2.6" font-weight="bold" fill="#111">-1</text>
<line x1="407.7" y1="108.07" x2="418.2" y2="108.07" stroke="#e8e820" stroke-width="1.3"/>
<text x="438.2" y="109.97" font-size="4.9" text-anchor="end" font-weight="bold" fill="#111" textLength="14.22" lengthAdjust="spacingAndGlyphs" stroke="#111" stroke-width="0.22">2 mV s</text>
<text x="438.4" y="107.91" font-size="2.6" font-weight="bold" fill="#111">-1</text>
<line x1="407.7" y1="114.14" x2="418.2" y2="114.14" stroke="#ff2020" stroke-width="1.3"/>
<text x="438.2" y="116.04" font-size="4.9" text-anchor="end" font-weight="bold" fill="#111" textLength="14.22" lengthAdjust="spacingAndGlyphs" stroke="#111" stroke-width="0.22">5 mV s</text>
<text x="438.4" y="113.98" font-size="2.6" font-weight="bold" fill="#111">-1</text>
<line x1="407.7" y1="120.21" x2="418.2" y2="120.21" stroke="#1818ff" stroke-width="1.3"/>
<text x="438.2" y="122.11" font-size="4.9" text-anchor="end" font-weight="bold" fill="#111" textLength="16.67" lengthAdjust="spacingAndGlyphs" stroke="#111" stroke-width="0.22">10 mV s</text>
<text x="438.4" y="120.05" font-size="2.6" font-weight="bold" fill="#111">-1</text>
<line x1="407.7" y1="126.28" x2="418.2" y2="126.28" stroke="#1a8c1a" stroke-width="1.3"/>
<text x="438.2" y="128.18" font-size="4.9" text-anchor="end" font-weight="bold" fill="#111" textLength="16.67" lengthAdjust="spacingAndGlyphs" stroke="#111" stroke-width="0.22">20 mV s</text>
<text x="438.4" y="126.12" font-size="2.6" font-weight="bold" fill="#111">-1</text>
<line x1="407.7" y1="132.35" x2="418.2" y2="132.35" stroke="#60f2f2" stroke-width="1.3"/>
<text x="438.2" y="134.25" font-size="4.9" text-anchor="end" font-weight="bold" fill="#111" textLength="16.67" lengthAdjust="spacingAndGlyphs" stroke="#111" stroke-width="0.22">50 mV s</text>
<text x="438.4" y="132.19" font-size="2.6" font-weight="bold" fill="#111">-1</text>
<line x1="407.7" y1="138.42" x2="418.2" y2="138.42" stroke="#ff33ff" stroke-width="1.3"/>
<text x="438.2" y="140.32" font-size="4.9" text-anchor="end" font-weight="bold" fill="#111" textLength="19.12" lengthAdjust="spacingAndGlyphs" stroke="#111" stroke-width="0.22">100 mV s</text>
<text x="438.4" y="138.26" font-size="2.6" font-weight="bold" fill="#111">-1</text>
<line x1="407.7" y1="144.49" x2="418.2" y2="144.49" stroke="#8a8a1e" stroke-width="1.3"/>
<text x="438.2" y="146.39" font-size="4.9" text-anchor="end" font-weight="bold" fill="#111" textLength="19.12" lengthAdjust="spacingAndGlyphs" stroke="#111" stroke-width="0.22">200 mV s</text>
<text x="438.4" y="144.33" font-size="2.6" font-weight="bold" fill="#111">-1</text>
<rect x="497.8" y="17.2" width="183.8" height="136.4" fill="none" stroke="#484848" stroke-width="1.3"/>
<line x1="497.8" y1="27.25" x2="500.6" y2="27.25" stroke="#6a6a6a" stroke-width="1"/>
<line x1="497.8" y1="46.8" x2="500.6" y2="46.8" stroke="#6a6a6a" stroke-width="1"/>
<line x1="497.8" y1="66.35" x2="500.6" y2="66.35" stroke="#6a6a6a" stroke-width="1"/>
<line x1="497.8" y1="85.9" x2="500.6" y2="85.9" stroke="#6a6a6a" stroke-width="1"/>
<line x1="497.8" y1="105.45" x2="500.6" y2="105.45" stroke="#6a6a6a" stroke-width="1"/>
<line x1="497.8" y1="125" x2="500.6" y2="125" stroke="#6a6a6a" stroke-width="1"/>
<line x1="497.8" y1="144.55" x2="500.6" y2="144.55" stroke="#6a6a6a" stroke-width="1"/>
<line x1="497.8" y1="37.03" x2="499.4" y2="37.03" stroke="#6a6a6a" stroke-width="1"/>
<line x1="497.8" y1="56.58" x2="499.4" y2="56.58" stroke="#6a6a6a" stroke-width="1"/>
<line x1="497.8" y1="76.12" x2="499.4" y2="76.12" stroke="#6a6a6a" stroke-width="1"/>
<line x1="497.8" y1="95.68" x2="499.4" y2="95.68" stroke="#6a6a6a" stroke-width="1"/>
<line x1="497.8" y1="115.23" x2="499.4" y2="115.23" stroke="#6a6a6a" stroke-width="1"/>
<line x1="497.8" y1="134.78" x2="499.4" y2="134.78" stroke="#6a6a6a" stroke-width="1"/>
<line x1="516.6" y1="153.6" x2="516.6" y2="150.8" stroke="#6a6a6a" stroke-width="1"/>
<line x1="553.2" y1="153.6" x2="553.2" y2="150.8" stroke="#6a6a6a" stroke-width="1"/>
<line x1="589.8" y1="153.6" x2="589.8" y2="150.8" stroke="#6a6a6a" stroke-width="1"/>
<line x1="626.4" y1="153.6" x2="626.4" y2="150.8" stroke="#6a6a6a" stroke-width="1"/>
<line x1="663" y1="153.6" x2="663" y2="150.8" stroke="#6a6a6a" stroke-width="1"/>
<line x1="534.9" y1="153.6" x2="534.9" y2="152" stroke="#6a6a6a" stroke-width="1"/>
<line x1="571.5" y1="153.6" x2="571.5" y2="152" stroke="#6a6a6a" stroke-width="1"/>
<line x1="608.1" y1="153.6" x2="608.1" y2="152" stroke="#6a6a6a" stroke-width="1"/>
<line x1="644.7" y1="153.6" x2="644.7" y2="152" stroke="#6a6a6a" stroke-width="1"/>
<text x="494.3" y="30.95" font-size="10.4" text-anchor="end" font-weight="bold" fill="#111"  textLength="17.87" lengthAdjust="spacingAndGlyphs">300</text>
<text x="494.3" y="50.5" font-size="10.4" text-anchor="end" font-weight="bold" fill="#111"  textLength="17.87" lengthAdjust="spacingAndGlyphs">200</text>
<text x="494.3" y="70.05" font-size="10.4" text-anchor="end" font-weight="bold" fill="#111"  textLength="17.87" lengthAdjust="spacingAndGlyphs">100</text>
<text x="494.3" y="89.6" font-size="10.4" text-anchor="end" font-weight="bold" fill="#111"  textLength="5.96" lengthAdjust="spacingAndGlyphs">0</text>
<text x="494.3" y="109.15" font-size="10.4" text-anchor="end" font-weight="bold" fill="#111"  textLength="21.44" lengthAdjust="spacingAndGlyphs">-100</text>
<text x="494.3" y="128.7" font-size="10.4" text-anchor="end" font-weight="bold" fill="#111"  textLength="21.44" lengthAdjust="spacingAndGlyphs">-200</text>
<text x="494.3" y="148.25" font-size="10.4" text-anchor="end" font-weight="bold" fill="#111"  textLength="21.44" lengthAdjust="spacingAndGlyphs">-300</text>
<text x="516.6" y="166" font-size="10.4" text-anchor="middle" font-weight="bold" fill="#111"  textLength="14.89" lengthAdjust="spacingAndGlyphs">0.0</text>
<text x="553.2" y="166" font-size="10.4" text-anchor="middle" font-weight="bold" fill="#111"  textLength="14.89" lengthAdjust="spacingAndGlyphs">0.2</text>
<text x="589.8" y="166" font-size="10.4" text-anchor="middle" font-weight="bold" fill="#111"  textLength="14.89" lengthAdjust="spacingAndGlyphs">0.4</text>
<text x="626.4" y="166" font-size="10.4" text-anchor="middle" font-weight="bold" fill="#111"  textLength="14.89" lengthAdjust="spacingAndGlyphs">0.6</text>
<text x="663" y="166" font-size="10.4" text-anchor="middle" font-weight="bold" fill="#111"  textLength="14.89" lengthAdjust="spacingAndGlyphs">0.8</text>
<text x="588.8" y="177.5" font-size="11.6" text-anchor="middle" font-weight="bold" fill="#111" >Voltage (V)</text>
<text x="0" y="0" font-size="11.3" text-anchor="middle" font-weight="bold" fill="#111" transform="translate(467.5 85.2) rotate(-90)" textLength="115.91" lengthAdjust="spacingAndGlyphs">Current Density (A/g)</text>
<text x="458.1" y="12.8" font-size="16.3" text-anchor="start" font-weight="bold" fill="#111"  textLength="13.04" lengthAdjust="spacingAndGlyphs">c)</text>
<path d="M516.60 92.11 L516.10 89.62 L516.87 88.11 L517.89 86.87 L519.13 85.87 L520.57 85.07 L522.17 84.46 L523.90 83.98 L525.73 83.63 L527.62 83.35 L529.56 83.13 L531.52 82.93 L533.47 82.75 L535.41 82.57 L537.36 82.40 L539.31 82.25 L541.26 82.10 L543.20 81.96 L545.15 81.84 L547.09 81.72 L549.03 81.60 L550.98 81.50 L552.92 81.40 L554.86 81.31 L556.80 81.23 L558.74 81.16 L560.68 81.09 L562.61 81.02 L564.55 80.97 L566.49 80.91 L568.42 80.87 L570.36 80.82 L572.30 80.79 L574.23 80.75 L576.16 80.72 L578.10 80.70 L580.03 80.67 L581.96 80.65 L583.89 80.64 L585.82 80.62 L587.76 80.61 L589.69 80.60 L591.62 80.59 L593.55 80.58 L595.47 80.57 L597.40 80.56 L599.33 80.55 L601.26 80.54 L603.19 80.53 L605.12 80.52 L607.04 80.51 L608.97 80.50 L610.90 80.49 L612.82 80.47 L614.75 80.45 L616.68 80.43 L618.60 80.40 L620.53 80.37 L622.45 80.34 L624.38 80.31 L626.30 80.27 L628.23 80.22 L630.15 80.17 L632.08 80.12 L634.01 80.06 L635.93 79.99 L637.86 79.92 L639.78 79.84 L641.71 79.75 L643.63 79.66 L645.56 79.56 L647.48 79.45 L649.41 79.33 L651.33 79.21 L653.26 79.07 L655.18 78.93 L657.11 78.78 L659.04 78.62 L660.96 78.44 L662.90 78.29 M662.90 78.29 L663.37 80.82 L662.73 82.47 L661.70 83.74 L660.39 84.72 L658.87 85.49 L657.23 86.12 L655.54 86.67 L653.80 87.14 L652.02 87.55 L650.21 87.90 L648.36 88.19 L646.47 88.42 L644.56 88.61 L642.63 88.76 L640.68 88.88 L638.71 88.96 L636.72 89.02 L634.73 89.06 L632.73 89.08 L630.73 89.10 L628.73 89.11 L626.73 89.12 L624.74 89.14 L622.76 89.15 L620.78 89.18 L618.81 89.20 L616.84 89.23 L614.88 89.26 L612.92 89.29 L610.97 89.33 L609.02 89.37 L607.07 89.41 L605.13 89.45 L603.20 89.50 L601.26 89.54 L599.33 89.59 L597.41 89.64 L595.48 89.70 L593.56 89.75 L591.64 89.81 L589.73 89.86 L587.81 89.92 L585.90 89.98 L583.99 90.04 L582.08 90.10 L580.17 90.16 L578.27 90.22 L576.36 90.28 L574.45 90.34 L572.55 90.41 L570.64 90.47 L568.74 90.53 L566.83 90.59 L564.92 90.65 L563.02 90.72 L561.11 90.78 L559.20 90.84 L557.29 90.90 L555.38 90.95 L553.46 91.01 L551.55 91.07 L549.63 91.12 L547.71 91.17 L545.78 91.22 L543.86 91.27 L541.93 91.32 L539.99 91.37 L538.06 91.41 L536.12 91.45 L534.17 91.49 L532.22 91.53 L530.27 91.56 L528.31 91.60 L526.35 91.63 L524.38 91.65 L522.41 91.67 L520.43 91.69 L518.45 91.71 L516.60 92.11" fill="none" stroke="#2a2a9c" stroke-width="1.2" stroke-linejoin="round" stroke-linecap="round" />
<path d="M516.60 93.21 L515.99 90.62 L516.63 88.90 L517.53 87.46 L518.66 86.28 L519.99 85.32 L521.50 84.55 L523.15 83.94 L524.92 83.47 L526.77 83.09 L528.68 82.79 L530.62 82.52 L532.56 82.28 L534.50 82.05 L536.44 81.83 L538.38 81.63 L540.33 81.44 L542.27 81.27 L544.22 81.11 L546.17 80.96 L548.11 80.82 L550.06 80.69 L552.01 80.58 L553.96 80.47 L555.91 80.38 L557.87 80.29 L559.82 80.21 L561.77 80.15 L563.73 80.09 L565.68 80.04 L567.63 79.99 L569.59 79.96 L571.54 79.93 L573.50 79.90 L575.46 79.88 L577.41 79.87 L579.37 79.86 L581.32 79.85 L583.28 79.85 L585.24 79.86 L587.19 79.86 L589.15 79.87 L591.10 79.88 L593.06 79.89 L595.01 79.90 L596.97 79.91 L598.92 79.93 L600.88 79.94 L602.83 79.95 L604.78 79.96 L606.74 79.97 L608.69 79.98 L610.64 79.99 L612.59 79.99 L614.54 79.99 L616.49 79.98 L618.44 79.97 L620.38 79.96 L622.33 79.94 L624.27 79.91 L626.22 79.88 L628.16 79.85 L630.10 79.80 L632.04 79.75 L633.98 79.69 L635.92 79.62 L637.86 79.55 L639.79 79.46 L641.72 79.36 L643.66 79.26 L645.59 79.14 L647.51 79.02 L649.44 78.88 L651.37 78.73 L653.29 78.56 L655.21 78.39 L657.13 78.20 L659.05 78.00 L660.96 77.78 L662.90 77.60 M662.90 77.60 L663.38 80.10 L662.86 81.92 L661.98 83.40 L660.79 84.60 L659.37 85.57 L657.82 86.38 L656.18 87.08 L654.49 87.68 L652.75 88.20 L650.96 88.64 L649.13 89.01 L647.27 89.32 L645.37 89.56 L643.44 89.76 L641.48 89.90 L639.50 90.01 L637.51 90.09 L635.50 90.13 L633.49 90.16 L631.47 90.18 L629.45 90.18 L627.43 90.19 L625.42 90.20 L623.42 90.21 L621.42 90.23 L619.43 90.25 L617.45 90.27 L615.47 90.30 L613.49 90.33 L611.52 90.37 L609.56 90.40 L607.60 90.44 L605.65 90.49 L603.70 90.53 L601.75 90.58 L599.81 90.63 L597.87 90.68 L595.94 90.73 L594.00 90.79 L592.07 90.84 L590.15 90.90 L588.22 90.96 L586.30 91.02 L584.38 91.09 L582.46 91.15 L580.54 91.21 L578.62 91.28 L576.71 91.34 L574.79 91.41 L572.88 91.47 L570.96 91.54 L569.05 91.60 L567.14 91.67 L565.22 91.73 L563.30 91.80 L561.39 91.86 L559.47 91.92 L557.55 91.99 L555.63 92.05 L553.70 92.11 L551.77 92.16 L549.85 92.22 L547.91 92.28 L545.98 92.33 L544.04 92.38 L542.10 92.43 L540.16 92.48 L538.21 92.52 L536.26 92.56 L534.30 92.60 L532.34 92.64 L530.37 92.67 L528.40 92.70 L526.42 92.73 L524.44 92.75 L522.45 92.77 L520.45 92.79 L518.45 92.80 L516.60 93.21" fill="none" stroke="#7a2a9e" stroke-width="1.2" stroke-linejoin="round" stroke-linecap="round" />
<path d="M516.60 95.00 L515.96 92.40 L516.34 90.39 L517.01 88.67 L517.95 87.24 L519.11 86.04 L520.47 85.06 L522.00 84.26 L523.68 83.61 L525.46 83.09 L527.32 82.67 L529.23 82.32 L531.17 82.00 L533.11 81.70 L535.05 81.43 L536.99 81.17 L538.94 80.93 L540.89 80.70 L542.84 80.50 L544.80 80.31 L546.76 80.14 L548.72 79.98 L550.69 79.84 L552.65 79.71 L554.62 79.59 L556.59 79.49 L558.56 79.40 L560.54 79.32 L562.51 79.25 L564.49 79.20 L566.47 79.15 L568.45 79.11 L570.43 79.09 L572.41 79.07 L574.39 79.05 L576.38 79.05 L578.36 79.05 L580.35 79.06 L582.34 79.07 L584.32 79.08 L586.31 79.11 L588.30 79.13 L590.29 79.16 L592.27 79.19 L594.26 79.22 L596.25 79.25 L598.23 79.28 L600.22 79.32 L602.21 79.35 L604.19 79.38 L606.18 79.41 L608.16 79.44 L610.14 79.46 L612.12 79.48 L614.10 79.50 L616.08 79.51 L618.06 79.52 L620.03 79.52 L622.01 79.51 L623.98 79.50 L625.95 79.48 L627.92 79.45 L629.88 79.41 L631.85 79.36 L633.81 79.31 L635.77 79.24 L637.73 79.16 L639.68 79.07 L641.63 78.97 L643.58 78.85 L645.52 78.72 L647.46 78.57 L649.40 78.42 L651.34 78.24 L653.27 78.05 L655.20 77.84 L657.12 77.62 L659.04 77.38 L660.96 77.12 L662.90 76.90 M662.90 76.90 L663.36 79.33 L663.03 81.36 L662.33 83.09 L661.34 84.55 L660.10 85.79 L658.68 86.84 L657.15 87.74 L655.54 88.53 L653.86 89.21 L652.13 89.80 L650.34 90.29 L648.51 90.70 L646.63 91.03 L644.71 91.30 L642.76 91.51 L640.78 91.66 L638.78 91.77 L636.76 91.85 L634.72 91.89 L632.68 91.92 L630.63 91.93 L628.59 91.93 L626.55 91.94 L624.51 91.95 L622.49 91.97 L620.47 91.98 L618.46 92.01 L616.45 92.03 L614.45 92.06 L612.46 92.10 L610.47 92.13 L608.49 92.17 L606.51 92.21 L604.54 92.26 L602.57 92.31 L600.61 92.36 L598.65 92.41 L596.69 92.46 L594.74 92.52 L592.79 92.58 L590.85 92.64 L588.90 92.70 L586.96 92.76 L585.02 92.83 L583.09 92.89 L581.15 92.96 L579.22 93.02 L577.29 93.09 L575.35 93.16 L573.42 93.22 L571.49 93.29 L569.56 93.36 L567.63 93.43 L565.70 93.49 L563.77 93.56 L561.83 93.63 L559.90 93.69 L557.96 93.75 L556.02 93.82 L554.08 93.88 L552.14 93.94 L550.19 94.00 L548.24 94.05 L546.29 94.11 L544.33 94.16 L542.38 94.21 L540.41 94.26 L538.44 94.30 L536.47 94.35 L534.49 94.39 L532.51 94.42 L530.52 94.46 L528.53 94.49 L526.53 94.52 L524.53 94.54 L522.51 94.56 L520.49 94.57 L518.47 94.59 L516.60 95.00" fill="none" stroke="#8e2a3c" stroke-width="1.2" stroke-linejoin="round" stroke-linecap="round" />
<path d="M516.60 96.60 L516.27 94.29 L517.06 92.73 L518.08 91.37 L519.31 90.20 L520.72 89.18 L522.28 88.30 L523.96 87.54 L525.74 86.87 L527.58 86.27 L529.47 85.73 L531.37 85.20 L533.28 84.70 L535.18 84.21 L537.09 83.73 L539.00 83.28 L540.92 82.83 L542.83 82.41 L544.75 81.99 L546.66 81.60 L548.58 81.21 L550.50 80.84 L552.43 80.48 L554.35 80.14 L556.27 79.81 L558.20 79.49 L560.13 79.18 L562.06 78.89 L563.99 78.61 L565.92 78.33 L567.85 78.07 L569.78 77.82 L571.72 77.58 L573.65 77.35 L575.59 77.14 L577.53 76.93 L579.46 76.72 L581.40 76.53 L583.34 76.35 L585.28 76.17 L587.22 76.01 L589.16 75.85 L591.11 75.70 L593.05 75.55 L594.99 75.41 L596.93 75.28 L598.88 75.15 L600.82 75.03 L602.76 74.92 L604.71 74.81 L606.65 74.71 L608.60 74.61 L610.54 74.51 L612.49 74.42 L614.43 74.33 L616.38 74.25 L618.32 74.17 L620.26 74.09 L622.21 74.01 L624.15 73.94 L626.09 73.87 L628.04 73.80 L629.98 73.73 L631.92 73.66 L633.86 73.59 L635.80 73.53 L637.74 73.46 L639.68 73.39 L641.62 73.33 L643.56 73.26 L645.50 73.19 L647.43 73.12 L649.37 73.04 L651.30 72.97 L653.24 72.89 L655.17 72.81 L657.10 72.73 L659.03 72.64 L660.96 72.55 L662.90 72.50 M662.90 72.50 L663.19 74.85 L662.71 76.87 L662.01 78.68 L661.10 80.30 L660.02 81.74 L658.77 83.02 L657.39 84.14 L655.90 85.14 L654.32 86.02 L652.67 86.80 L650.95 87.48 L649.16 88.07 L647.33 88.58 L645.44 89.02 L643.51 89.40 L641.54 89.71 L639.55 89.98 L637.52 90.21 L635.48 90.40 L633.43 90.57 L631.36 90.72 L629.30 90.86 L627.24 91.00 L625.19 91.15 L623.15 91.29 L621.12 91.44 L619.09 91.58 L617.07 91.73 L615.06 91.88 L613.05 92.04 L611.05 92.19 L609.05 92.34 L607.07 92.50 L605.08 92.65 L603.10 92.81 L601.13 92.97 L599.16 93.12 L597.20 93.27 L595.23 93.43 L593.28 93.58 L591.32 93.73 L589.37 93.88 L587.42 94.03 L585.47 94.18 L583.53 94.32 L581.59 94.46 L579.65 94.60 L577.70 94.74 L575.76 94.87 L573.83 95.00 L571.89 95.13 L569.95 95.25 L568.01 95.37 L566.07 95.48 L564.13 95.60 L562.18 95.70 L560.24 95.80 L558.29 95.90 L556.35 95.99 L554.40 96.07 L552.44 96.15 L550.48 96.23 L548.52 96.29 L546.56 96.35 L544.59 96.41 L542.62 96.46 L540.64 96.50 L538.66 96.53 L536.68 96.55 L534.68 96.57 L532.69 96.58 L530.68 96.58 L528.67 96.58 L526.65 96.56 L524.63 96.54 L522.60 96.50 L520.56 96.46 L518.51 96.41 L516.60 96.60" fill="none" stroke="#3c9c3c" stroke-width="1.2" stroke-linejoin="round" stroke-linecap="round" />
<path d="M516.60 99.50 L515.90 96.92 L516.19 94.91 L516.78 93.16 L517.65 91.65 L518.75 90.35 L520.07 89.23 L521.56 88.28 L523.21 87.46 L524.97 86.75 L526.83 86.12 L528.74 85.55 L530.68 85.02 L532.62 84.50 L534.57 84.00 L536.52 83.51 L538.47 83.03 L540.42 82.57 L542.37 82.11 L544.33 81.67 L546.28 81.24 L548.24 80.82 L550.20 80.42 L552.16 80.02 L554.13 79.64 L556.09 79.27 L558.05 78.91 L560.02 78.56 L561.99 78.22 L563.96 77.89 L565.93 77.57 L567.90 77.26 L569.87 76.97 L571.84 76.68 L573.82 76.40 L575.79 76.13 L577.77 75.87 L579.75 75.62 L581.72 75.38 L583.70 75.14 L585.68 74.92 L587.66 74.70 L589.64 74.50 L591.62 74.30 L593.60 74.11 L595.58 73.92 L597.57 73.75 L599.55 73.58 L601.53 73.42 L603.51 73.26 L605.50 73.12 L607.48 72.98 L609.46 72.84 L611.45 72.72 L613.43 72.60 L615.41 72.48 L617.40 72.37 L619.38 72.27 L621.36 72.17 L623.34 72.08 L625.33 71.99 L627.31 71.91 L629.29 71.83 L631.27 71.76 L633.25 71.70 L635.23 71.63 L637.21 71.57 L639.19 71.52 L641.17 71.47 L643.15 71.42 L645.12 71.38 L647.10 71.34 L649.08 71.30 L651.05 71.27 L653.02 71.24 L655.00 71.21 L656.97 71.19 L658.94 71.17 L660.91 71.15 L662.90 71.20 M662.90 71.20 L663.22 73.55 L662.86 75.64 L662.24 77.51 L661.38 79.17 L660.31 80.65 L659.06 81.96 L657.67 83.12 L656.15 84.15 L654.55 85.06 L652.87 85.88 L651.14 86.60 L649.34 87.24 L647.50 87.80 L645.62 88.29 L643.69 88.73 L641.73 89.10 L639.74 89.44 L637.73 89.73 L635.70 90.00 L633.65 90.24 L631.60 90.46 L629.55 90.68 L627.50 90.90 L625.46 91.12 L623.43 91.35 L621.40 91.58 L619.38 91.81 L617.37 92.05 L615.36 92.29 L613.36 92.54 L611.36 92.78 L609.37 93.03 L607.38 93.28 L605.40 93.53 L603.43 93.79 L601.45 94.04 L599.48 94.29 L597.52 94.54 L595.55 94.79 L593.60 95.04 L591.64 95.29 L589.68 95.53 L587.73 95.78 L585.78 96.01 L583.83 96.25 L581.89 96.48 L579.94 96.71 L577.99 96.93 L576.05 97.15 L574.10 97.36 L572.16 97.57 L570.21 97.77 L568.26 97.96 L566.32 98.15 L564.37 98.32 L562.42 98.49 L560.46 98.66 L558.51 98.81 L556.55 98.95 L554.59 99.09 L552.63 99.21 L550.66 99.32 L548.69 99.43 L546.72 99.52 L544.74 99.60 L542.76 99.66 L540.77 99.72 L538.78 99.76 L536.79 99.79 L534.78 99.80 L532.77 99.80 L530.76 99.79 L528.74 99.76 L526.71 99.71 L524.68 99.65 L522.63 99.58 L520.58 99.48 L518.53 99.37 L516.60 99.50" fill="none" stroke="#2a8c8c" stroke-width="1.2" stroke-linejoin="round" stroke-linecap="round" />
<path d="M516.60 108.90 L516.35 106.57 L517.12 104.65 L518.01 102.83 L519.01 101.11 L520.12 99.49 L521.33 97.95 L522.63 96.49 L524.01 95.12 L525.47 93.82 L527.00 92.59 L528.59 91.42 L530.23 90.32 L531.93 89.27 L533.66 88.27 L535.43 87.31 L537.23 86.40 L539.04 85.52 L540.87 84.68 L542.71 83.87 L544.57 83.09 L546.45 82.35 L548.33 81.63 L550.23 80.95 L552.15 80.29 L554.07 79.66 L556.01 79.05 L557.96 78.48 L559.92 77.92 L561.88 77.40 L563.86 76.89 L565.85 76.41 L567.85 75.95 L569.85 75.51 L571.87 75.09 L573.89 74.69 L575.91 74.31 L577.95 73.94 L579.99 73.60 L582.03 73.27 L584.08 72.95 L586.14 72.65 L588.19 72.36 L590.26 72.08 L592.32 71.82 L594.39 71.56 L596.46 71.32 L598.53 71.08 L600.60 70.85 L602.68 70.63 L604.75 70.42 L606.82 70.21 L608.90 70.01 L610.97 69.81 L613.04 69.61 L615.11 69.42 L617.17 69.23 L619.23 69.04 L621.29 68.84 L623.34 68.65 L625.39 68.46 L627.44 68.26 L629.48 68.06 L631.51 67.85 L633.54 67.64 L635.56 67.42 L637.57 67.19 L639.57 66.96 L641.57 66.72 L643.55 66.47 L645.53 66.21 L647.50 65.93 L649.46 65.65 L651.40 65.35 L653.34 65.04 L655.26 64.71 L657.17 64.37 L659.07 64.01 L660.96 63.63 L662.90 63.30 M662.90 63.30 L663.03 65.65 L662.40 67.81 L661.65 69.83 L660.78 71.71 L659.80 73.46 L658.71 75.09 L657.51 76.60 L656.23 77.99 L654.85 79.28 L653.39 80.48 L651.86 81.57 L650.25 82.58 L648.57 83.52 L646.84 84.37 L645.05 85.16 L643.21 85.89 L641.32 86.56 L639.40 87.19 L637.45 87.77 L635.47 88.31 L633.47 88.83 L631.46 89.32 L629.44 89.80 L627.41 90.27 L625.39 90.72 L623.37 91.18 L621.34 91.62 L619.32 92.06 L617.30 92.50 L615.28 92.93 L613.26 93.35 L611.24 93.76 L609.22 94.18 L607.21 94.58 L605.19 94.98 L603.17 95.38 L601.16 95.77 L599.14 96.15 L597.13 96.53 L595.11 96.91 L593.10 97.28 L591.08 97.64 L589.07 98.01 L587.06 98.36 L585.05 98.72 L583.03 99.07 L581.02 99.41 L579.01 99.76 L577.00 100.09 L574.99 100.43 L572.98 100.76 L570.97 101.09 L568.96 101.41 L566.95 101.74 L564.94 102.06 L562.93 102.37 L560.92 102.68 L558.91 103.00 L556.90 103.30 L554.89 103.61 L552.88 103.91 L550.87 104.22 L548.86 104.51 L546.85 104.81 L544.84 105.11 L542.83 105.40 L540.82 105.70 L538.81 105.99 L536.80 106.28 L534.79 106.57 L532.78 106.85 L530.77 107.14 L528.76 107.43 L526.75 107.71 L524.74 108.00 L522.73 108.28 L520.71 108.57 L518.70 108.85 L516.60 108.90" fill="none" stroke="#2828dc" stroke-width="1.2" stroke-linejoin="round" stroke-linecap="round" />
<path d="M516.00 124.20 L515.99 122.17 L516.83 119.92 L517.71 117.73 L518.65 115.59 L519.64 113.50 L520.68 111.47 L521.77 109.49 L522.90 107.56 L524.09 105.69 L525.32 103.86 L526.59 102.08 L527.91 100.35 L529.27 98.67 L530.68 97.03 L532.12 95.44 L533.61 93.90 L535.13 92.40 L536.69 90.94 L538.29 89.52 L539.93 88.14 L541.60 86.81 L543.30 85.51 L545.04 84.26 L546.80 83.04 L548.60 81.86 L550.43 80.71 L552.29 79.60 L554.17 78.52 L556.08 77.48 L558.02 76.47 L559.98 75.49 L561.97 74.55 L563.98 73.63 L566.01 72.74 L568.06 71.89 L570.13 71.05 L572.21 70.25 L574.32 69.47 L576.44 68.72 L578.58 67.99 L580.73 67.28 L582.90 66.60 L585.07 65.94 L587.26 65.30 L589.46 64.68 L591.67 64.07 L593.89 63.49 L596.11 62.92 L598.34 62.37 L600.58 61.84 L602.82 61.32 L605.06 60.81 L607.31 60.32 L609.55 59.84 L611.80 59.37 L614.05 58.91 L616.29 58.46 L618.53 58.02 L620.77 57.59 L623.00 57.16 L625.22 56.75 L627.44 56.33 L629.65 55.92 L631.85 55.52 L634.05 55.11 L636.23 54.71 L638.39 54.31 L640.55 53.91 L642.69 53.51 L644.81 53.11 L646.92 52.71 L649.02 52.30 L651.09 51.89 L653.14 51.47 L655.18 51.05 L657.19 50.62 L659.18 50.19 L661.15 49.74 L663.30 49.30 M663.30 49.30 L662.83 51.33 L662.28 53.71 L661.63 56.00 L660.88 58.20 L660.04 60.32 L659.10 62.35 L658.07 64.31 L656.96 66.18 L655.78 67.98 L654.51 69.71 L653.17 71.37 L651.77 72.97 L650.30 74.50 L648.77 75.98 L647.18 77.39 L645.54 78.75 L643.85 80.07 L642.11 81.33 L640.34 82.55 L638.52 83.73 L636.68 84.86 L634.80 85.96 L632.90 87.03 L630.97 88.07 L629.03 89.07 L627.08 90.06 L625.11 91.02 L623.13 91.96 L621.14 92.87 L619.14 93.77 L617.13 94.64 L615.11 95.50 L613.09 96.34 L611.05 97.16 L609.00 97.96 L606.95 98.74 L604.89 99.51 L602.82 100.26 L600.74 100.99 L598.66 101.71 L596.57 102.42 L594.48 103.11 L592.38 103.79 L590.28 104.46 L588.17 105.11 L586.05 105.75 L583.93 106.39 L581.81 107.01 L579.69 107.62 L577.56 108.23 L575.43 108.82 L573.30 109.41 L571.16 109.99 L569.03 110.57 L566.89 111.13 L564.75 111.70 L562.61 112.26 L560.48 112.81 L558.34 113.36 L556.20 113.91 L554.07 114.46 L551.93 115.00 L549.80 115.55 L547.67 116.09 L545.54 116.63 L543.42 117.18 L541.30 117.72 L539.18 118.27 L537.07 118.82 L534.96 119.37 L532.85 119.93 L530.75 120.49 L528.66 121.05 L526.57 121.63 L524.49 122.20 L522.42 122.79 L520.35 123.38 L518.29 123.98 L516.00 124.20" fill="none" stroke="#ff8c22" stroke-width="1.2" stroke-linejoin="round" stroke-linecap="round" />
<path d="M516.50 140.80 L517.54 139.06 L518.10 136.45 L518.72 133.89 L519.40 131.37 L520.13 128.89 L520.92 126.45 L521.77 124.06 L522.66 121.70 L523.61 119.39 L524.61 117.11 L525.66 114.88 L526.76 112.68 L527.91 110.52 L529.10 108.41 L530.34 106.32 L531.63 104.28 L532.96 102.27 L534.33 100.30 L535.75 98.37 L537.21 96.47 L538.71 94.61 L540.25 92.78 L541.83 90.99 L543.44 89.23 L545.10 87.50 L546.78 85.81 L548.51 84.15 L550.27 82.52 L552.06 80.93 L553.88 79.36 L555.74 77.83 L557.62 76.33 L559.54 74.85 L561.48 73.41 L563.45 72.00 L565.45 70.61 L567.48 69.26 L569.52 67.93 L571.60 66.63 L573.69 65.35 L575.81 64.11 L577.94 62.89 L580.10 61.69 L582.28 60.52 L584.47 59.38 L586.68 58.26 L588.91 57.17 L591.15 56.10 L593.41 55.05 L595.68 54.02 L597.96 53.02 L600.26 52.04 L602.56 51.08 L604.88 50.15 L607.20 49.23 L609.53 48.33 L611.87 47.46 L614.21 46.60 L616.56 45.77 L618.91 44.95 L621.27 44.15 L623.63 43.36 L625.98 42.60 L628.34 41.85 L630.70 41.12 L633.06 40.40 L635.41 39.70 L637.76 39.02 L640.10 38.35 L642.44 37.69 L644.77 37.05 L647.10 36.42 L649.41 35.81 L651.72 35.21 L654.02 34.62 L656.31 34.04 L658.58 33.47 L660.84 32.92 L663.30 32.10 M663.30 32.10 L663.26 34.64 L662.91 37.04 L662.46 39.40 L661.89 41.73 L661.23 44.03 L660.46 46.29 L659.61 48.53 L658.67 50.74 L657.65 52.92 L656.55 55.07 L655.39 57.19 L654.16 59.28 L652.87 61.34 L651.52 63.38 L650.12 65.39 L648.68 67.38 L647.20 69.33 L645.67 71.26 L644.10 73.15 L642.48 75.00 L640.83 76.82 L639.14 78.60 L637.42 80.34 L635.65 82.03 L633.86 83.68 L632.03 85.28 L630.17 86.84 L628.27 88.34 L626.35 89.80 L624.40 91.21 L622.43 92.58 L620.43 93.91 L618.40 95.20 L616.36 96.45 L614.29 97.67 L612.20 98.86 L610.09 100.02 L607.97 101.16 L605.83 102.27 L603.67 103.35 L601.51 104.42 L599.32 105.47 L597.13 106.50 L594.93 107.52 L592.72 108.52 L590.51 109.52 L588.29 110.51 L586.06 111.50 L583.83 112.48 L581.60 113.46 L579.37 114.45 L577.14 115.43 L574.91 116.41 L572.68 117.40 L570.44 118.38 L568.21 119.37 L565.97 120.35 L563.74 121.33 L561.50 122.31 L559.27 123.29 L557.03 124.26 L554.79 125.23 L552.55 126.20 L550.31 127.17 L548.07 128.13 L545.82 129.08 L543.58 130.03 L541.33 130.98 L539.09 131.92 L536.84 132.85 L534.59 133.78 L532.34 134.70 L530.09 135.61 L527.84 136.51 L525.59 137.41 L523.33 138.30 L521.08 139.18 L518.82 140.05 L516.50 140.80" fill="none" stroke="#8c2cff" stroke-width="1.2" stroke-linejoin="round" stroke-linecap="round" />
<line x1="636.4" y1="102.2" x2="646.8" y2="102.2" stroke="#2a2a9c" stroke-width="1.3"/>
<text x="672.9" y="103.8" font-size="4.8" text-anchor="end" font-weight="bold" fill="#111" textLength="20.19" lengthAdjust="spacingAndGlyphs" stroke="#111" stroke-width="0.18">300 mV s</text>
<text x="673.2" y="101.78" font-size="2.6" font-weight="bold" fill="#111">-1</text>
<line x1="636.4" y1="108.45" x2="646.8" y2="108.45" stroke="#7a2a9e" stroke-width="1.3"/>
<text x="672.9" y="110.05" font-size="4.8" text-anchor="end" font-weight="bold" fill="#111" textLength="20.19" lengthAdjust="spacingAndGlyphs" stroke="#111" stroke-width="0.18">400 mV s</text>
<text x="673.2" y="108.03" font-size="2.6" font-weight="bold" fill="#111">-1</text>
<line x1="636.4" y1="114.7" x2="646.8" y2="114.7" stroke="#8e2a3c" stroke-width="1.3"/>
<text x="672.9" y="116.3" font-size="4.8" text-anchor="end" font-weight="bold" fill="#111" textLength="20.19" lengthAdjust="spacingAndGlyphs" stroke="#111" stroke-width="0.18">500 mV s</text>
<text x="673.2" y="114.28" font-size="2.6" font-weight="bold" fill="#111">-1</text>
<line x1="636.4" y1="120.95" x2="646.8" y2="120.95" stroke="#3c9c3c" stroke-width="1.3"/>
<text x="672.9" y="122.55" font-size="4.8" text-anchor="end" font-weight="bold" fill="#111" textLength="20.19" lengthAdjust="spacingAndGlyphs" stroke="#111" stroke-width="0.18">800 mV s</text>
<text x="673.2" y="120.53" font-size="2.6" font-weight="bold" fill="#111">-1</text>
<line x1="636.4" y1="127.2" x2="646.8" y2="127.2" stroke="#2a8c8c" stroke-width="1.3"/>
<text x="672.9" y="128.8" font-size="4.8" text-anchor="end" font-weight="bold" fill="#111" textLength="22.78" lengthAdjust="spacingAndGlyphs" stroke="#111" stroke-width="0.18">1000 mV s</text>
<text x="673.2" y="126.78" font-size="2.6" font-weight="bold" fill="#111">-1</text>
<line x1="636.4" y1="133.45" x2="646.8" y2="133.45" stroke="#2828dc" stroke-width="1.3"/>
<text x="672.9" y="135.05" font-size="4.8" text-anchor="end" font-weight="bold" fill="#111" textLength="22.78" lengthAdjust="spacingAndGlyphs" stroke="#111" stroke-width="0.18">2000 mV s</text>
<text x="673.2" y="133.03" font-size="2.6" font-weight="bold" fill="#111">-1</text>
<line x1="636.4" y1="139.7" x2="646.8" y2="139.7" stroke="#ff8c22" stroke-width="1.3"/>
<text x="672.9" y="141.3" font-size="4.8" text-anchor="end" font-weight="bold" fill="#111" textLength="22.78" lengthAdjust="spacingAndGlyphs" stroke="#111" stroke-width="0.18">5000 mV s</text>
<text x="673.2" y="139.28" font-size="2.6" font-weight="bold" fill="#111">-1</text>
<line x1="636.4" y1="145.95" x2="646.8" y2="145.95" stroke="#8c2cff" stroke-width="1.3"/>
<text x="672.9" y="147.55" font-size="4.8" text-anchor="end" font-weight="bold" fill="#111" textLength="25.37" lengthAdjust="spacingAndGlyphs" stroke="#111" stroke-width="0.18">10000 mV s</text>
<text x="673.2" y="145.53" font-size="2.6" font-weight="bold" fill="#111">-1</text>
<rect x="35.5" y="194.5" width="184.2" height="135.7" fill="none" stroke="#2e2e2e" stroke-width="1.05"/>
<line x1="35.5" y1="323.4" x2="38.3" y2="323.4" stroke="#6a6a6a" stroke-width="1"/>
<line x1="35.5" y1="294.8" x2="38.3" y2="294.8" stroke="#6a6a6a" stroke-width="1"/>
<line x1="35.5" y1="266.2" x2="38.3" y2="266.2" stroke="#6a6a6a" stroke-width="1"/>
<line x1="35.5" y1="237.6" x2="38.3" y2="237.6" stroke="#6a6a6a" stroke-width="1"/>
<line x1="35.5" y1="209" x2="38.3" y2="209" stroke="#6a6a6a" stroke-width="1"/>
<line x1="35.5" y1="309.1" x2="37.1" y2="309.1" stroke="#6a6a6a" stroke-width="1"/>
<line x1="35.5" y1="280.5" x2="37.1" y2="280.5" stroke="#6a6a6a" stroke-width="1"/>
<line x1="35.5" y1="251.9" x2="37.1" y2="251.9" stroke="#6a6a6a" stroke-width="1"/>
<line x1="35.5" y1="223.3" x2="37.1" y2="223.3" stroke="#6a6a6a" stroke-width="1"/>
<line x1="81.72" y1="330.2" x2="81.72" y2="327.4" stroke="#6a6a6a" stroke-width="1"/>
<line x1="127.65" y1="330.2" x2="127.65" y2="327.4" stroke="#6a6a6a" stroke-width="1"/>
<line x1="173.57" y1="330.2" x2="173.57" y2="327.4" stroke="#6a6a6a" stroke-width="1"/>
<line x1="58.76" y1="330.2" x2="58.76" y2="328.6" stroke="#6a6a6a" stroke-width="1"/>
<line x1="104.69" y1="330.2" x2="104.69" y2="328.6" stroke="#6a6a6a" stroke-width="1"/>
<line x1="150.61" y1="330.2" x2="150.61" y2="328.6" stroke="#6a6a6a" stroke-width="1"/>
<line x1="196.54" y1="330.2" x2="196.54" y2="328.6" stroke="#6a6a6a" stroke-width="1"/>
<text x="32.4" y="327.1" font-size="10.4" text-anchor="end" font-weight="bold" fill="#111"  textLength="14.89" lengthAdjust="spacingAndGlyphs">0.0</text>
<text x="32.4" y="298.5" font-size="10.4" text-anchor="end" font-weight="bold" fill="#111"  textLength="14.89" lengthAdjust="spacingAndGlyphs">0.2</text>
<text x="32.4" y="269.9" font-size="10.4" text-anchor="end" font-weight="bold" fill="#111"  textLength="14.89" lengthAdjust="spacingAndGlyphs">0.4</text>
<text x="32.4" y="241.3" font-size="10.4" text-anchor="end" font-weight="bold" fill="#111"  textLength="14.89" lengthAdjust="spacingAndGlyphs">0.6</text>
<text x="32.4" y="212.7" font-size="10.4" text-anchor="end" font-weight="bold" fill="#111"  textLength="14.89" lengthAdjust="spacingAndGlyphs">0.8</text>
<text x="35.8" y="343" font-size="10.4" text-anchor="middle" font-weight="bold" fill="#111"  textLength="5.96" lengthAdjust="spacingAndGlyphs">0</text>
<text x="81.72" y="343" font-size="10.4" text-anchor="middle" font-weight="bold" fill="#111"  textLength="11.92" lengthAdjust="spacingAndGlyphs">50</text>
<text x="127.65" y="343" font-size="10.4" text-anchor="middle" font-weight="bold" fill="#111"  textLength="17.87" lengthAdjust="spacingAndGlyphs">100</text>
<text x="173.57" y="343" font-size="10.4" text-anchor="middle" font-weight="bold" fill="#111"  textLength="17.87" lengthAdjust="spacingAndGlyphs">150</text>
<text x="219.5" y="343" font-size="10.4" text-anchor="middle" font-weight="bold" fill="#111"  textLength="17.87" lengthAdjust="spacingAndGlyphs">200</text>
<text x="128" y="359" font-size="11.6" text-anchor="middle" font-weight="bold" fill="#111" >Time (sec.)</text>
<text x="0" y="0" font-size="11.3" text-anchor="middle" font-weight="bold" fill="#111" transform="translate(11.8 263.5) rotate(-90)" textLength="62.38" lengthAdjust="spacingAndGlyphs">Voltage (V)</text>
<text x="7" y="197.9" font-size="16.3" text-anchor="start" font-weight="bold" fill="#111"  textLength="13.85" lengthAdjust="spacingAndGlyphs">d)</text>
<path d="M35.9 323.4C36.06 321.77 36.15 314.92 37.1 311.2C38.05 307.48 41.2 299.66 43 295.5C44.8 291.34 47 287 50.6 280C54.2 273 64.96 252.52 70 243C75.04 233.48 85.95 213.19 88.4 208.6 L88.9 215.3 Q108.41 263.1 140.2 323.5" fill="none" stroke="#3cc4ae" stroke-width="1" stroke-linejoin="round" stroke-linecap="round" />
<path d="M35.9 323.4C37.11 320.81 42.23 309.79 45 304C47.77 298.21 52.7 288.19 56.7 280C60.7 271.81 69.95 252.12 75 242.6C80.05 233.08 91.99 213.13 94.6 208.6 L95.1 211.5 Q119.99 266.26 152.7 323.5" fill="none" stroke="#ff2d88" stroke-width="1" stroke-linejoin="round" stroke-linecap="round" />
<path d="M35.9 323.4C37.38 320.75 43.49 309.29 47 303.5C50.51 297.71 57.13 288.17 62.2 280C67.27 271.83 78.73 251.72 85 242.2C91.27 232.68 105.97 213.08 109.2 208.6 L109.5 210 Q129.73 249.45 180.8 323.5" fill="none" stroke="#c078ff" stroke-width="1" stroke-linejoin="round" stroke-linecap="round" />
<line x1="191.1" y1="202.3" x2="206.6" y2="202.3" stroke="#3cc4ae" stroke-width="1.05"/>
<text x="208.3" y="204.45" font-size="6.3" text-anchor="start" font-weight="bold" fill="#111"  textLength="8.05" lengthAdjust="spacingAndGlyphs">1C</text>
<line x1="191.1" y1="210.75" x2="206.6" y2="210.75" stroke="#ff2d88" stroke-width="1.05"/>
<text x="208.3" y="212.9" font-size="6.3" text-anchor="start" font-weight="bold" fill="#111"  textLength="8.05" lengthAdjust="spacingAndGlyphs">2C</text>
<line x1="191.1" y1="219.2" x2="206.6" y2="219.2" stroke="#c078ff" stroke-width="1.05"/>
<text x="208.3" y="221.35" font-size="6.3" text-anchor="start" font-weight="bold" fill="#111"  textLength="8.05" lengthAdjust="spacingAndGlyphs">3C</text>
<text x="215.5" y="322.4" font-size="7.2" text-anchor="end" font-weight="bold" fill="#111" textLength="24.55" lengthAdjust="spacingAndGlyphs" stroke="#111" stroke-width="0.15">1.0 A g</text>
<text x="215.6" y="319.38" font-size="3.4" font-weight="bold" fill="#111">-1</text>
<rect x="267.5" y="198.6" width="187.1" height="139" fill="none" stroke="#5e5e5e" stroke-width="1.4"/>
<line x1="267.5" y1="332.2" x2="270.3" y2="332.2" stroke="#6a6a6a" stroke-width="1"/>
<line x1="267.5" y1="300.28" x2="270.3" y2="300.28" stroke="#6a6a6a" stroke-width="1"/>
<line x1="267.5" y1="268.36" x2="270.3" y2="268.36" stroke="#6a6a6a" stroke-width="1"/>
<line x1="267.5" y1="236.44" x2="270.3" y2="236.44" stroke="#6a6a6a" stroke-width="1"/>
<line x1="267.5" y1="204.52" x2="270.3" y2="204.52" stroke="#6a6a6a" stroke-width="1"/>
<line x1="267.5" y1="316.24" x2="269.1" y2="316.24" stroke="#6a6a6a" stroke-width="1"/>
<line x1="267.5" y1="284.32" x2="269.1" y2="284.32" stroke="#6a6a6a" stroke-width="1"/>
<line x1="267.5" y1="252.4" x2="269.1" y2="252.4" stroke="#6a6a6a" stroke-width="1"/>
<line x1="267.5" y1="220.48" x2="269.1" y2="220.48" stroke="#6a6a6a" stroke-width="1"/>
<line x1="309.12" y1="337.6" x2="309.12" y2="334.8" stroke="#6a6a6a" stroke-width="1"/>
<line x1="350.65" y1="337.6" x2="350.65" y2="334.8" stroke="#6a6a6a" stroke-width="1"/>
<line x1="392.18" y1="337.6" x2="392.18" y2="334.8" stroke="#6a6a6a" stroke-width="1"/>
<line x1="433.7" y1="337.6" x2="433.7" y2="334.8" stroke="#6a6a6a" stroke-width="1"/>
<line x1="288.36" y1="337.6" x2="288.36" y2="336" stroke="#6a6a6a" stroke-width="1"/>
<line x1="329.89" y1="337.6" x2="329.89" y2="336" stroke="#6a6a6a" stroke-width="1"/>
<line x1="371.41" y1="337.6" x2="371.41" y2="336" stroke="#6a6a6a" stroke-width="1"/>
<line x1="412.94" y1="337.6" x2="412.94" y2="336" stroke="#6a6a6a" stroke-width="1"/>
<text x="263.8" y="335.9" font-size="10.4" text-anchor="end" font-weight="bold" fill="#111"  textLength="14.89" lengthAdjust="spacingAndGlyphs">0.0</text>
<text x="263.8" y="303.98" font-size="10.4" text-anchor="end" font-weight="bold" fill="#111"  textLength="14.89" lengthAdjust="spacingAndGlyphs">0.2</text>
<text x="263.8" y="272.06" font-size="10.4" text-anchor="end" font-weight="bold" fill="#111"  textLength="14.89" lengthAdjust="spacingAndGlyphs">0.4</text>
<text x="263.8" y="240.14" font-size="10.4" text-anchor="end" font-weight="bold" fill="#111"  textLength="14.89" lengthAdjust="spacingAndGlyphs">0.6</text>
<text x="263.8" y="208.22" font-size="10.4" text-anchor="end" font-weight="bold" fill="#111"  textLength="14.89" lengthAdjust="spacingAndGlyphs">0.8</text>
<text x="267.6" y="349.8" font-size="10.4" text-anchor="middle" font-weight="bold" fill="#111"  textLength="5.96" lengthAdjust="spacingAndGlyphs">0</text>
<text x="309.12" y="349.8" font-size="10.4" text-anchor="middle" font-weight="bold" fill="#111"  textLength="17.87" lengthAdjust="spacingAndGlyphs">500</text>
<text x="350.65" y="349.8" font-size="10.4" text-anchor="middle" font-weight="bold" fill="#111"  textLength="23.83" lengthAdjust="spacingAndGlyphs">1000</text>
<text x="392.18" y="349.8" font-size="10.4" text-anchor="middle" font-weight="bold" fill="#111"  textLength="23.83" lengthAdjust="spacingAndGlyphs">1500</text>
<text x="433.7" y="349.8" font-size="10.4" text-anchor="middle" font-weight="bold" fill="#111"  textLength="23.83" lengthAdjust="spacingAndGlyphs">2000</text>
<text x="367.7" y="362" font-size="11.6" text-anchor="middle" font-weight="bold" fill="#111" >Time (s)</text>
<text x="0" y="0" font-size="11.3" text-anchor="middle" font-weight="bold" fill="#111" transform="translate(241.5 272.1) rotate(-90)" textLength="61.08" lengthAdjust="spacingAndGlyphs">Voltage (V)</text>
<text x="230.2" y="197.9" font-size="16.3" text-anchor="start" font-weight="bold" fill="#111"  textLength="13.04" lengthAdjust="spacingAndGlyphs">e)</text>
<path d="M267.9 331.6 L268.4 204.4 L269.6 331.6" fill="none" stroke="#8e2e9e" stroke-width="1.1" stroke-linejoin="round" stroke-linecap="round" />
<path d="M267.9 331.6 L268.5 204.4 L269.8 331.6" fill="none" stroke="#34349e" stroke-width="1.1" stroke-linejoin="round" stroke-linecap="round" />
<path d="M267.9 331.6 L268.6 204.4 L270 331.6" fill="none" stroke="#7f7f22" stroke-width="1.1" stroke-linejoin="round" stroke-linecap="round" />
<path d="M267.9 331.6 L268.7 204.4 L270.3 331.6" fill="none" stroke="#ffff33" stroke-width="1.1" stroke-linejoin="round" stroke-linecap="round" />
<path d="M267.9 331.6 L268.8 204.4 L270.7 331.6" fill="none" stroke="#ff44ff" stroke-width="1.1" stroke-linejoin="round" stroke-linecap="round" />
<path d="M268 331.6 L270.6 204.4 L273.9 331.6" fill="none" stroke="#88ffff" stroke-width="1.1" stroke-linejoin="round" stroke-linecap="round" />
<path d="M268 331 L269.3 300 L271.5 250 L273.9 204.4 L276.9 260 L279.9 331.6" fill="none" stroke="#1818ff" stroke-width="1.1" stroke-linejoin="round" stroke-linecap="round" />
<path d="M267.9 331 L270.5 300 L274.5 260 L277.8 230 L280.9 204.4 L294.9 331.6" fill="none" stroke="#33ee33" stroke-width="1.1" stroke-linejoin="round" stroke-linecap="round" />
<path d="M268.4 329.14 L269.66 323.5 L270.93 317.96 L272.19 312.53 L273.45 307.19 L274.72 301.96 L275.98 296.83 L277.24 291.8 L278.51 286.88 L279.77 282.06 L281.03 277.34 L282.3 272.72 L283.56 268.2 L284.82 263.79 L286.09 259.47 L287.35 255.26 L288.61 251.15 L289.88 247.15 L291.14 243.24 L292.4 239.44 L293.67 235.74 L294.93 232.14 L296.19 228.65 L297.46 225.25 L298.72 221.96 L299.98 218.77 L301.25 215.68 L302.51 212.7 L303.77 209.81 L305.04 207.03 L306.3 204.4 L340.6 331" fill="none" stroke="#ff2c2c" stroke-width="1.1" stroke-linejoin="round" stroke-linecap="round" />
<path d="M269.6 325.52 L271.85 320.66 L274.09 315.89 L276.34 311.22 L278.58 306.64 L280.83 302.16 L283.07 297.77 L285.31 293.47 L287.56 289.27 L289.81 285.16 L292.05 281.15 L294.3 277.23 L296.54 273.4 L298.79 269.67 L301.03 266.03 L303.27 262.49 L305.52 259.04 L307.76 255.68 L310.01 252.42 L312.25 249.25 L314.5 246.17 L316.75 243.19 L318.99 240.31 L321.24 237.51 L323.48 234.81 L325.73 232.21 L327.97 229.7 L330.21 227.28 L332.46 224.96 L334.7 222.73 L336.95 220.59 L339.19 218.55 L341.44 216.6 L343.69 214.75 L345.93 212.99 L348.17 211.33 L350.42 209.75 L352.66 208.28 L354.91 206.89 L357.15 205.6 L359.4 204.41 L359.40 204.40 L360.52 206.59 L361.60 208.81 L362.69 211.02 L363.78 213.23 L364.88 215.44 L365.98 217.64 L367.09 219.84 L368.20 222.04 L369.33 224.23 L370.45 226.43 L371.59 228.61 L372.72 230.80 L373.87 232.98 L375.02 235.16 L376.17 237.34 L377.33 239.51 L378.49 241.68 L379.66 243.85 L380.84 246.02 L382.01 248.18 L383.20 250.34 L384.38 252.50 L385.57 254.66 L386.77 256.81 L387.97 258.97 L389.17 261.12 L390.38 263.26 L391.59 265.41 L392.81 267.55 L394.02 269.69 L395.25 271.83 L396.47 273.97 L397.70 276.11 L398.93 278.24 L400.16 280.38 L401.40 282.51 L402.64 284.64 L403.88 286.76 L405.13 288.89 L406.38 291.02 L407.63 293.14 L408.88 295.26 L410.13 297.38 L411.39 299.50 L412.65 301.62 L413.91 303.74 L415.17 305.86 L416.43 307.97 L417.70 310.09 L418.97 312.20 L420.23 314.31 L421.50 316.43 L422.77 318.54 L424.04 320.65 L425.31 322.76 L426.59 324.87 L427.86 326.98 L429.13 329.09 L430.40 331.20" fill="none" stroke="#1a1a1a" stroke-width="1.2" stroke-linejoin="round" stroke-linecap="round" />
<line x1="414.8" y1="226.1" x2="428.5" y2="226.1" stroke="#1a1a1a" stroke-width="1.15"/>
<text x="451.1" y="227.6" font-size="5.2" text-anchor="end" font-weight="bold" fill="#111" textLength="20.94" lengthAdjust="spacingAndGlyphs" stroke="#111" stroke-width="0.15">0.10 A g</text>
<text x="451.2" y="225.42" font-size="2.8" font-weight="bold" fill="#111">-1</text>
<line x1="414.8" y1="233.79" x2="428.5" y2="233.79" stroke="#ff2c2c" stroke-width="1.15"/>
<text x="451.1" y="235.29" font-size="5.2" text-anchor="end" font-weight="bold" fill="#111" textLength="20.94" lengthAdjust="spacingAndGlyphs" stroke="#111" stroke-width="0.15">0.20 A g</text>
<text x="451.2" y="233.11" font-size="2.8" font-weight="bold" fill="#111">-1</text>
<line x1="414.8" y1="241.48" x2="428.5" y2="241.48" stroke="#33ee33" stroke-width="1.15"/>
<text x="451.1" y="242.98" font-size="5.2" text-anchor="end" font-weight="bold" fill="#111" textLength="20.94" lengthAdjust="spacingAndGlyphs" stroke="#111" stroke-width="0.15">0.50 A g</text>
<text x="451.2" y="240.8" font-size="2.8" font-weight="bold" fill="#111">-1</text>
<line x1="414.8" y1="249.17" x2="428.5" y2="249.17" stroke="#1818ff" stroke-width="1.15"/>
<text x="451.1" y="250.67" font-size="5.2" text-anchor="end" font-weight="bold" fill="#111" textLength="20.94" lengthAdjust="spacingAndGlyphs" stroke="#111" stroke-width="0.15">1.00 A g</text>
<text x="451.2" y="248.49" font-size="2.8" font-weight="bold" fill="#111">-1</text>
<line x1="414.8" y1="256.86" x2="428.5" y2="256.86" stroke="#88ffff" stroke-width="1.15"/>
<text x="451.1" y="258.36" font-size="5.2" text-anchor="end" font-weight="bold" fill="#111" textLength="20.94" lengthAdjust="spacingAndGlyphs" stroke="#111" stroke-width="0.15">2.00 A g</text>
<text x="451.2" y="256.18" font-size="2.8" font-weight="bold" fill="#111">-1</text>
<line x1="414.8" y1="264.55" x2="428.5" y2="264.55" stroke="#ff44ff" stroke-width="1.15"/>
<text x="451.1" y="266.05" font-size="5.2" text-anchor="end" font-weight="bold" fill="#111" textLength="20.94" lengthAdjust="spacingAndGlyphs" stroke="#111" stroke-width="0.15">5.00 A g</text>
<text x="451.2" y="263.87" font-size="2.8" font-weight="bold" fill="#111">-1</text>
<line x1="414.8" y1="272.24" x2="428.5" y2="272.24" stroke="#ffff33" stroke-width="1.15"/>
<text x="451.1" y="273.74" font-size="5.2" text-anchor="end" font-weight="bold" fill="#111" textLength="20.94" lengthAdjust="spacingAndGlyphs" stroke="#111" stroke-width="0.15">10.0 A g</text>
<text x="451.2" y="271.56" font-size="2.8" font-weight="bold" fill="#111">-1</text>
<line x1="414.8" y1="279.93" x2="428.5" y2="279.93" stroke="#7f7f22" stroke-width="1.15"/>
<text x="451.1" y="281.43" font-size="5.2" text-anchor="end" font-weight="bold" fill="#111" textLength="20.94" lengthAdjust="spacingAndGlyphs" stroke="#111" stroke-width="0.15">20.0 A g</text>
<text x="451.2" y="279.25" font-size="2.8" font-weight="bold" fill="#111">-1</text>
<line x1="414.8" y1="287.62" x2="428.5" y2="287.62" stroke="#34349e" stroke-width="1.15"/>
<text x="451.1" y="289.12" font-size="5.2" text-anchor="end" font-weight="bold" fill="#111" textLength="20.94" lengthAdjust="spacingAndGlyphs" stroke="#111" stroke-width="0.15">40.0 A g</text>
<text x="451.2" y="286.94" font-size="2.8" font-weight="bold" fill="#111">-1</text>
<line x1="414.8" y1="295.31" x2="428.5" y2="295.31" stroke="#8e2e9e" stroke-width="1.15"/>
<text x="451.1" y="296.81" font-size="5.2" text-anchor="end" font-weight="bold" fill="#111" textLength="20.94" lengthAdjust="spacingAndGlyphs" stroke="#111" stroke-width="0.15">80.0 A g</text>
<text x="451.2" y="294.63" font-size="2.8" font-weight="bold" fill="#111">-1</text>
<rect x="507.6" y="191.2" width="165.4" height="164.8" fill="none" stroke="#333333" stroke-width="1.05"/>
<line x1="507.6" y1="353.2" x2="510.4" y2="353.2" stroke="#6a6a6a" stroke-width="1"/>
<line x1="507.6" y1="320.76" x2="510.4" y2="320.76" stroke="#6a6a6a" stroke-width="1"/>
<line x1="507.6" y1="288.32" x2="510.4" y2="288.32" stroke="#6a6a6a" stroke-width="1"/>
<line x1="507.6" y1="255.88" x2="510.4" y2="255.88" stroke="#6a6a6a" stroke-width="1"/>
<line x1="507.6" y1="223.44" x2="510.4" y2="223.44" stroke="#6a6a6a" stroke-width="1"/>
<line x1="507.6" y1="336.98" x2="509.2" y2="336.98" stroke="#6a6a6a" stroke-width="1"/>
<line x1="507.6" y1="304.54" x2="509.2" y2="304.54" stroke="#6a6a6a" stroke-width="1"/>
<line x1="507.6" y1="272.1" x2="509.2" y2="272.1" stroke="#6a6a6a" stroke-width="1"/>
<line x1="507.6" y1="239.66" x2="509.2" y2="239.66" stroke="#6a6a6a" stroke-width="1"/>
<line x1="507.6" y1="207.22" x2="509.2" y2="207.22" stroke="#6a6a6a" stroke-width="1"/>
<line x1="511.2" y1="356" x2="511.2" y2="353.2" stroke="#6a6a6a" stroke-width="1"/>
<line x1="543.42" y1="356" x2="543.42" y2="353.2" stroke="#6a6a6a" stroke-width="1"/>
<line x1="575.65" y1="356" x2="575.65" y2="353.2" stroke="#6a6a6a" stroke-width="1"/>
<line x1="607.88" y1="356" x2="607.88" y2="353.2" stroke="#6a6a6a" stroke-width="1"/>
<line x1="640.1" y1="356" x2="640.1" y2="353.2" stroke="#6a6a6a" stroke-width="1"/>
<line x1="527.31" y1="356" x2="527.31" y2="354.4" stroke="#6a6a6a" stroke-width="1"/>
<line x1="559.54" y1="356" x2="559.54" y2="354.4" stroke="#6a6a6a" stroke-width="1"/>
<line x1="591.76" y1="356" x2="591.76" y2="354.4" stroke="#6a6a6a" stroke-width="1"/>
<line x1="623.99" y1="356" x2="623.99" y2="354.4" stroke="#6a6a6a" stroke-width="1"/>
<line x1="656.21" y1="356" x2="656.21" y2="354.4" stroke="#6a6a6a" stroke-width="1"/>
<text x="504.6" y="356.9" font-size="10.4" text-anchor="end" font-weight="bold" fill="#111"  textLength="5.96" lengthAdjust="spacingAndGlyphs">0</text>
<text x="504.6" y="324.46" font-size="10.4" text-anchor="end" font-weight="bold" fill="#111"  textLength="11.92" lengthAdjust="spacingAndGlyphs">50</text>
<text x="504.6" y="292.02" font-size="10.4" text-anchor="end" font-weight="bold" fill="#111"  textLength="17.87" lengthAdjust="spacingAndGlyphs">100</text>
<text x="504.6" y="259.58" font-size="10.4" text-anchor="end" font-weight="bold" fill="#111"  textLength="17.87" lengthAdjust="spacingAndGlyphs">150</text>
<text x="504.6" y="227.14" font-size="10.4" text-anchor="end" font-weight="bold" fill="#111"  textLength="17.87" lengthAdjust="spacingAndGlyphs">200</text>
<text x="504.6" y="194.7" font-size="10.4" text-anchor="end" font-weight="bold" fill="#111"  textLength="17.87" lengthAdjust="spacingAndGlyphs">250</text>
<text x="511.2" y="368" font-size="10.4" text-anchor="middle" font-weight="bold" fill="#111"  textLength="5.96" lengthAdjust="spacingAndGlyphs">0</text>
<text x="543.42" y="368" font-size="10.4" text-anchor="middle" font-weight="bold" fill="#111"  textLength="11.92" lengthAdjust="spacingAndGlyphs">50</text>
<text x="575.65" y="368" font-size="10.4" text-anchor="middle" font-weight="bold" fill="#111"  textLength="17.87" lengthAdjust="spacingAndGlyphs">100</text>
<text x="607.88" y="368" font-size="10.4" text-anchor="middle" font-weight="bold" fill="#111"  textLength="17.87" lengthAdjust="spacingAndGlyphs">150</text>
<text x="640.1" y="368" font-size="10.4" text-anchor="middle" font-weight="bold" fill="#111"  textLength="17.87" lengthAdjust="spacingAndGlyphs">200</text>
<text x="672.33" y="368" font-size="10.4" text-anchor="middle" font-weight="bold" fill="#111"  textLength="17.87" lengthAdjust="spacingAndGlyphs">250</text>
<text x="465.6" y="197.9" font-size="16.3" text-anchor="start" font-weight="bold" fill="#111"  textLength="9.77" lengthAdjust="spacingAndGlyphs">f)</text>
<text x="570.6" y="378.8" font-size="11.3" font-weight="bold" fill="#111">Z<tspan font-size="6.6" dy="3.0">real</tspan><tspan dy="-3.0" font-weight="normal" font-size="11.4"> (&#937;)</tspan></text>
<text transform="translate(479.9 287.1) rotate(-90)" font-size="11.6" font-weight="bold" fill="#111">Z<tspan font-size="7.0" dy="3.0">imag</tspan><tspan dy="-3.0" font-weight="normal" font-size="11.4"> (&#937;)</tspan></text>
<path d="M511.30 353.20 L511.63 351.71 L512.16 350.20 L512.92 348.92 L513.86 347.89 L514.96 347.10 L516.17 346.59 L517.47 346.37 L518.81 346.44 L520.17 346.83 L521.51 347.55 L522.79 348.49 L524.00 349.45 L525.11 350.20 L526.10 350.52 L526.94 350.21 L527.65 349.36 L528.27 348.23 L528.82 347.03 L529.31 345.80 L529.75 344.53 L530.14 343.23 L530.49 341.90 L530.79 340.55 L531.06 339.17 L531.30 337.78 L531.50 336.37 L531.69 334.94 L531.85 333.51 L531.99 332.06 L532.13 330.61 L532.25 329.16 L532.37 327.71 L532.50 326.26 L532.61 324.82 L532.73 323.37 L532.85 321.93 L532.96 320.49 L533.07 319.05 L533.18 317.61 L533.29 316.18 L533.39 314.74 L533.50 313.31 L533.60 311.88 L533.70 310.45 L533.80 309.02 L533.90 307.60 L533.99 306.17 L534.09 304.75 L534.18 303.33 L534.27 301.91 L534.36 300.49 L534.45 299.07 L534.54 297.65 L534.63 296.24 L534.71 294.82 L534.79 293.41 L534.88 291.99 L534.96 290.58 L535.03 289.17 L535.11 287.76 L535.19 286.35 L535.26 284.94 L535.34 283.53 L535.41 282.12 L535.48 280.71 L535.56 279.31 L535.62 277.90 L535.69 276.49 L535.76 275.09 L535.83 273.68 L535.89 272.28 L535.96 270.87 L536.02 269.47 L536.08 268.06 L536.14 266.66 L536.21 265.25 L536.27 263.85 L536.32 262.44 L536.38 261.04 L536.44 259.63 L536.50 258.22 L536.55 256.82 L536.61 255.41 L536.66 254.01 L536.72 252.60 L536.77 251.19 L536.82 249.78 L536.87 248.38 L536.92 246.97 L536.97 245.56 L537.02 244.15 L537.07 242.73 L537.12 241.32 L537.17 239.91 L537.22 238.50 L537.27 237.08 L537.31 235.67 L537.36 234.25 L537.41 232.83 L537.45 231.41 L537.50 229.99 L537.54 228.57 L537.59 227.15 L537.63 225.72 L537.68 224.30 L537.72 222.87 L537.76 221.44 L537.81 220.01 L537.85 218.58 L537.90 217.15 L537.94 215.71 L537.98 214.28 L538.03 212.84 L538.07 211.40 L538.11 209.96 L538.16 208.51 L538.20 207.07 L538.24 205.62 L538.30 204.20" fill="none" stroke="#3cc4ae" stroke-width="1.1" stroke-linejoin="round" stroke-linecap="round" />
<path d="M511.6 353 L512.6 352.2 L513.5 351 L514.3 347.5 L514.8 343.5 L515.1 341.8 L515.3 338.3 L515.6 332.4 L515.9 323.5 L516.4 309.8 L517 290.6 L517.8 261.9 L519.6 219.6" fill="none" stroke="#ff2d88" stroke-width="1.1" stroke-linejoin="round" stroke-linecap="round" />
<path d="M511.3 353.2 L511.6 350.5 L511.8 346.2 L512.2 342.8 L512.3 337.8 L512.4 331.9 L512.6 322 L513 307.5 L513.5 285.2 L514.6 254.6 L516.5 207.7" fill="none" stroke="#b25cff" stroke-width="1.1" stroke-linejoin="round" stroke-linecap="round" />
<circle cx="511.3" cy="353.2" r="1.55" fill="#3cc4ae"/>
<circle cx="511.74" cy="352.03" r="1.55" fill="#3cc4ae"/>
<circle cx="512.18" cy="350.86" r="1.55" fill="#3cc4ae"/>
<circle cx="512.8" cy="349.78" r="1.55" fill="#3cc4ae"/>
<circle cx="513.43" cy="348.7" r="1.55" fill="#3cc4ae"/>
<circle cx="514.18" cy="347.73" r="1.55" fill="#3cc4ae"/>
<circle cx="515.24" cy="347.07" r="1.55" fill="#3cc4ae"/>
<circle cx="516.35" cy="346.55" r="1.55" fill="#3cc4ae"/>
<circle cx="517.59" cy="346.38" r="1.55" fill="#3cc4ae"/>
<circle cx="518.83" cy="346.21" r="1.55" fill="#3cc4ae"/>
<circle cx="520.03" cy="346.52" r="1.55" fill="#3cc4ae"/>
<circle cx="521.19" cy="346.95" r="1.55" fill="#3cc4ae"/>
<circle cx="522.18" cy="347.72" r="1.55" fill="#3cc4ae"/>
<circle cx="523.14" cy="348.52" r="1.55" fill="#3cc4ae"/>
<circle cx="524.04" cy="349.38" r="1.55" fill="#3cc4ae"/>
<circle cx="524.98" cy="350.21" r="1.55" fill="#3cc4ae"/>
<circle cx="525.98" cy="350.96" r="1.55" fill="#3cc4ae"/>
<circle cx="527.07" cy="350.85" r="1.55" fill="#3cc4ae"/>
<circle cx="527.88" cy="350" r="1.55" fill="#3cc4ae"/>
<circle cx="528.42" cy="348.87" r="1.55" fill="#3cc4ae"/>
<circle cx="528.82" cy="347.69" r="1.55" fill="#3cc4ae"/>
<circle cx="529.19" cy="346.49" r="1.55" fill="#3cc4ae"/>
<circle cx="529.55" cy="345.3" r="1.55" fill="#3cc4ae"/>
<circle cx="529.83" cy="344.08" r="1.55" fill="#3cc4ae"/>
<circle cx="530.1" cy="342.86" r="1.55" fill="#3cc4ae"/>
<circle cx="530.8" cy="339.6" r="1.55" fill="#3cc4ae"/>
<circle cx="531.5" cy="335.3" r="1.55" fill="#3cc4ae"/>
<circle cx="532.2" cy="328.4" r="1.55" fill="#3cc4ae"/>
<circle cx="533.1" cy="318" r="1.55" fill="#3cc4ae"/>
<circle cx="534.3" cy="304" r="1.55" fill="#3cc4ae"/>
<circle cx="535.5" cy="281.7" r="1.55" fill="#3cc4ae"/>
<circle cx="536.7" cy="250.8" r="1.55" fill="#3cc4ae"/>
<circle cx="538.3" cy="204.2" r="1.55" fill="#3cc4ae"/>
<rect x="518.1" y="218.1" width="3" height="3" fill="#ff2d88"/>
<rect x="516.3" y="260.4" width="3" height="3" fill="#ff2d88"/>
<rect x="515.5" y="289.1" width="3" height="3" fill="#ff2d88"/>
<rect x="514.9" y="308.3" width="3" height="3" fill="#ff2d88"/>
<rect x="514.4" y="322" width="3" height="3" fill="#ff2d88"/>
<rect x="514.1" y="330.9" width="3" height="3" fill="#ff2d88"/>
<rect x="513.8" y="336.8" width="3" height="3" fill="#ff2d88"/>
<rect x="513.6" y="340.3" width="3" height="3" fill="#ff2d88"/>
<rect x="513.3" y="343.3" width="3" height="3" fill="#ff2d88"/>
<rect x="512.8" y="346" width="3" height="3" fill="#ff2d88"/>
<rect x="512.3" y="348.3" width="3" height="3" fill="#ff2d88"/>
<rect x="511.5" y="350" width="3" height="3" fill="#ff2d88"/>
<rect x="510.7" y="351.1" width="3" height="3" fill="#ff2d88"/>
<path d="M516.5 205.8 l1.8 3.1 h-3.6 z" fill="#b25cff"/>
<path d="M514.6 252.7 l1.8 3.1 h-3.6 z" fill="#b25cff"/>
<path d="M513.5 283.3 l1.8 3.1 h-3.6 z" fill="#b25cff"/>
<path d="M513 305.6 l1.8 3.1 h-3.6 z" fill="#b25cff"/>
<path d="M512.6 320.1 l1.8 3.1 h-3.6 z" fill="#b25cff"/>
<path d="M512.4 330 l1.8 3.1 h-3.6 z" fill="#b25cff"/>
<path d="M512.3 335.9 l1.8 3.1 h-3.6 z" fill="#b25cff"/>
<path d="M512.2 340.9 l1.8 3.1 h-3.6 z" fill="#b25cff"/>
<path d="M511.9 344.3 l1.8 3.1 h-3.6 z" fill="#b25cff"/>
<path d="M511.7 347.1 l1.8 3.1 h-3.6 z" fill="#b25cff"/>
<path d="M511.5 349.6 l1.8 3.1 h-3.6 z" fill="#b25cff"/>
<line x1="649.3" y1="196.4" x2="661.5" y2="196.4" stroke="#3cc4ae" stroke-width="1.1"/>
<text x="662.7" y="198.5" font-size="5.7" text-anchor="start" font-weight="bold" fill="#111"  textLength="7.29" lengthAdjust="spacingAndGlyphs">1C</text>
<line x1="649.3" y1="203" x2="661.5" y2="203" stroke="#ff2d88" stroke-width="1.1"/>
<text x="662.7" y="205.1" font-size="5.7" text-anchor="start" font-weight="bold" fill="#111"  textLength="7.29" lengthAdjust="spacingAndGlyphs">2C</text>
<line x1="649.3" y1="209.6" x2="661.5" y2="209.6" stroke="#b25cff" stroke-width="1.1"/>
<text x="662.7" y="211.7" font-size="5.7" text-anchor="start" font-weight="bold" fill="#111"  textLength="7.29" lengthAdjust="spacingAndGlyphs">3C</text>
<circle cx="655.4" cy="196.4" r="1.8" fill="#3cc4ae"/>
<rect x="653.7" y="201.3" width="3.4" height="3.4" fill="#ff2d88"/>
<path d="M655.4 207.6 l1.9 3.3 h-3.8 z" fill="#b25cff"/>
<rect x="566.8" y="219.6" width="100.2" height="98.7" fill="#fff" stroke="#6a6a6a" stroke-width="1"/>
<line x1="566.8" y1="315" x2="569" y2="315" stroke="#6a6a6a" stroke-width="1"/>
<line x1="566.8" y1="283.2" x2="569" y2="283.2" stroke="#6a6a6a" stroke-width="1"/>
<line x1="566.8" y1="251.4" x2="569" y2="251.4" stroke="#6a6a6a" stroke-width="1"/>
<line x1="566.8" y1="299.1" x2="568.1" y2="299.1" stroke="#6a6a6a" stroke-width="1"/>
<line x1="566.8" y1="267.3" x2="568.1" y2="267.3" stroke="#6a6a6a" stroke-width="1"/>
<line x1="566.8" y1="235.5" x2="568.1" y2="235.5" stroke="#6a6a6a" stroke-width="1"/>
<line x1="569.5" y1="318.3" x2="569.5" y2="316.1" stroke="#6a6a6a" stroke-width="1"/>
<line x1="601.9" y1="318.3" x2="601.9" y2="316.1" stroke="#6a6a6a" stroke-width="1"/>
<line x1="634.3" y1="318.3" x2="634.3" y2="316.1" stroke="#6a6a6a" stroke-width="1"/>
<line x1="585.7" y1="318.3" x2="585.7" y2="317" stroke="#6a6a6a" stroke-width="1"/>
<line x1="618.1" y1="318.3" x2="618.1" y2="317" stroke="#6a6a6a" stroke-width="1"/>
<line x1="650.5" y1="318.3" x2="650.5" y2="317" stroke="#6a6a6a" stroke-width="1"/>
<text x="564.3" y="317.7" font-size="7.8" text-anchor="end" font-weight="bold" fill="#111" >0</text>
<text x="564.3" y="285.9" font-size="7.8" text-anchor="end" font-weight="bold" fill="#111" >10</text>
<text x="564.3" y="254.1" font-size="7.8" text-anchor="end" font-weight="bold" fill="#111" >20</text>
<text x="564.3" y="222.3" font-size="7.8" text-anchor="end" font-weight="bold" fill="#111" >30</text>
<text x="569.5" y="327" font-size="7.8" text-anchor="middle" font-weight="bold" fill="#111" >0</text>
<text x="601.9" y="327" font-size="7.8" text-anchor="middle" font-weight="bold" fill="#111" >10</text>
<text x="634.3" y="327" font-size="7.8" text-anchor="middle" font-weight="bold" fill="#111" >20</text>
<text x="666.7" y="327" font-size="7.8" text-anchor="middle" font-weight="bold" fill="#111" >30</text>
<text x="600.7" y="337.2" font-size="9.0" font-weight="bold" fill="#111">Z<tspan font-size="5.8" dy="2.2">real</tspan><tspan dy="-2.2" font-weight="normal" font-size="9.0"> (&#937;)</tspan></text>
<text transform="translate(551.2 284.9) rotate(-90)" font-size="9.0" font-weight="bold" fill="#111">Z<tspan font-size="5.8" dy="2.2">imag</tspan><tspan dy="-2.2" font-weight="normal" font-size="9.0"> (&#937;)</tspan></text>
<clipPath id="ic"><rect x="566.8" y="219.6" width="100.2" height="98.7"/></clipPath>
<g clip-path="url(#ic)">
<path d="M569.1 314.8C569.46 313.86 570.67 310.35 571.5 308.5C572.33 306.65 573.12 304.63 574.6 302.5C576.09 300.37 579.55 296.36 581.4 294.3C583.25 292.25 584.44 290.36 586.9 288.8C589.36 287.24 594.51 284.8 597.8 283.9C601.08 283 605.51 282.68 608.8 282.8C612.08 282.92 616.62 283.71 619.7 284.7C622.78 285.69 626.84 287.75 629.3 289.4C631.76 291.05 634.25 293.52 636.1 295.7C637.95 297.88 640.16 302.05 641.6 303.9C643.04 305.75 644.28 307.81 645.7 308C647.12 308.19 649.47 306.85 651.1 305.2C652.74 303.55 654.95 300.69 656.6 297C658.25 293.31 660.47 285.85 662.1 280.6C663.74 275.35 666.69 264.79 667.5 262" fill="none" stroke="#3cc4ae" stroke-width="0.9" stroke-linejoin="round" stroke-linecap="round" />
<path d="M570.5 314.8 L575.6 314.8 L575.60 314.80 L576.05 313.76 L576.50 312.71 L576.93 311.66 L577.37 310.62 L577.80 309.56 L578.22 308.51 L578.63 307.45 L579.03 306.39 L579.42 305.32 L579.81 304.26 L580.20 303.19 L580.59 302.12 L580.99 301.06 L581.40 300.00 L581.82 298.95 L582.26 297.90 L582.70 296.85 L583.14 295.81 L583.58 294.76 L584.00 293.71 L584.41 292.65 L584.83 291.59 L585.24 290.53 L585.65 289.46 L586.04 288.39 L586.40 287.32 L586.73 286.23 L587.02 285.14 L587.28 284.04 L587.54 282.94 L587.77 281.83 L588.00 280.71 L588.21 279.59 L588.40 278.47 L588.59 277.35 L588.77 276.22 L588.93 275.10 L589.09 273.98 L589.23 272.85 L589.37 271.73 L589.50 270.60 L589.63 269.47 L589.76 268.34 L589.88 267.21 L590.00 266.08 L590.12 264.95 L590.24 263.82 L590.36 262.69 L590.47 261.56 L590.59 260.43 L590.70 259.30 L590.81 258.17 L590.92 257.04 L591.02 255.91 L591.13 254.78 L591.24 253.65 L591.35 252.52 L591.45 251.39 L591.56 250.26 L591.67 249.13 L591.77 248.00 L591.88 246.87 L591.98 245.74 L592.09 244.61 L592.19 243.48 L592.30 242.35 L592.40 241.22 L592.50 240.09 L592.61 238.96 L592.71 237.82 L592.82 236.69 L592.92 235.56 L593.02 234.43 L593.13 233.30 L593.23 232.17 L593.33 231.04 L593.44 229.91 L593.54 228.78 L593.64 227.65 L593.73 226.52 L593.83 225.38 L593.93 224.25 L594.02 223.12 L594.11 221.99 L594.20 220.86 L594.29 219.73 L594.38 218.59 L594.46 217.46 L594.54 216.33 L594.63 215.20 L594.71 214.06 L594.78 212.93 L594.86 211.80 L594.94 210.67 L595.01 209.53 L595.09 208.40 L595.16 207.27 L595.23 206.13 L595.30 205.00" fill="none" stroke="#ff2d88" stroke-width="0.9" stroke-linejoin="round" stroke-linecap="round" />
<path d="M569.5 314.8 L571.5 313 L574.6 313.5 L575.9 297 L577.3 264.2 L578.7 219.6 L579.5 200" fill="none" stroke="#b25cff" stroke-width="0.9" stroke-linejoin="round" stroke-linecap="round" />
<circle cx="571.5" cy="308.5" r="0.75" fill="#3cc4ae"/>
<circle cx="574.6" cy="302.5" r="0.75" fill="#3cc4ae"/>
<circle cx="581.4" cy="294.3" r="0.75" fill="#3cc4ae"/>
<circle cx="586.9" cy="288.8" r="0.75" fill="#3cc4ae"/>
<circle cx="597.8" cy="283.9" r="0.75" fill="#3cc4ae"/>
<circle cx="608.8" cy="282.8" r="0.75" fill="#3cc4ae"/>
<circle cx="619.7" cy="284.7" r="0.75" fill="#3cc4ae"/>
<circle cx="629.3" cy="289.4" r="0.75" fill="#3cc4ae"/>
<circle cx="636.1" cy="295.7" r="0.75" fill="#3cc4ae"/>
<circle cx="641.6" cy="303.9" r="0.75" fill="#3cc4ae"/>
<circle cx="645.7" cy="308" r="0.75" fill="#3cc4ae"/>
<circle cx="651.1" cy="305.2" r="0.75" fill="#3cc4ae"/>
<circle cx="656.6" cy="297" r="0.75" fill="#3cc4ae"/>
<circle cx="662.1" cy="280.6" r="0.75" fill="#3cc4ae"/>
<rect x="571.8" y="314.1" width="1.4" height="1.4" fill="#ff2d88"/>
<rect x="574.5" y="314.1" width="1.4" height="1.4" fill="#ff2d88"/>
<rect x="577.5" y="308.3" width="1.4" height="1.4" fill="#ff2d88"/>
<rect x="580.7" y="299.1" width="1.4" height="1.4" fill="#ff2d88"/>
<rect x="583.5" y="292.3" width="1.4" height="1.4" fill="#ff2d88"/>
<rect x="586.2" y="285.4" width="1.4" height="1.4" fill="#ff2d88"/>
<rect x="588.1" y="274.3" width="1.4" height="1.4" fill="#ff2d88"/>
<rect x="589.5" y="263.5" width="1.4" height="1.4" fill="#ff2d88"/>
<rect x="590.6" y="252.3" width="1.4" height="1.4" fill="#ff2d88"/>
<rect x="591.6" y="241.6" width="1.4" height="1.4" fill="#ff2d88"/>
<rect x="592.6" y="230.3" width="1.4" height="1.4" fill="#ff2d88"/>
<path d="M571.5 312.1 l0.8 1.4 h-1.6 z" fill="#b25cff"/>
<path d="M573.2 312.4 l0.8 1.4 h-1.6 z" fill="#b25cff"/>
<path d="M575.4 304.1 l0.8 1.4 h-1.6 z" fill="#b25cff"/>
<path d="M575.9 296.1 l0.8 1.4 h-1.6 z" fill="#b25cff"/>
<path d="M576.6 279.6 l0.8 1.4 h-1.6 z" fill="#b25cff"/>
<path d="M577.3 263.3 l0.8 1.4 h-1.6 z" fill="#b25cff"/>
<path d="M578 241.1 l0.8 1.4 h-1.6 z" fill="#b25cff"/>
</g>
<line x1="648.6" y1="224.6" x2="657.2" y2="224.6" stroke="#3cc4ae" stroke-width="0.75"/>
<circle cx="652.9" cy="224.6" r="0.75" fill="#3cc4ae"/>
<text x="658.6" y="226.05" font-size="3.9" text-anchor="start" font-weight="bold" fill="#111" >1C</text>
<line x1="648.6" y1="229.2" x2="657.2" y2="229.2" stroke="#ff2d88" stroke-width="0.75"/>
<circle cx="652.9" cy="229.2" r="0.75" fill="#ff2d88"/>
<text x="658.6" y="230.65" font-size="3.9" text-anchor="start" font-weight="bold" fill="#111" >2C</text>
<line x1="648.6" y1="233.8" x2="657.2" y2="233.8" stroke="#b25cff" stroke-width="0.75"/>
<circle cx="652.9" cy="233.8" r="0.75" fill="#b25cff"/>
<text x="658.6" y="235.25" font-size="3.9" text-anchor="start" font-weight="bold" fill="#111" >3C</text>
</svg></body></html>
